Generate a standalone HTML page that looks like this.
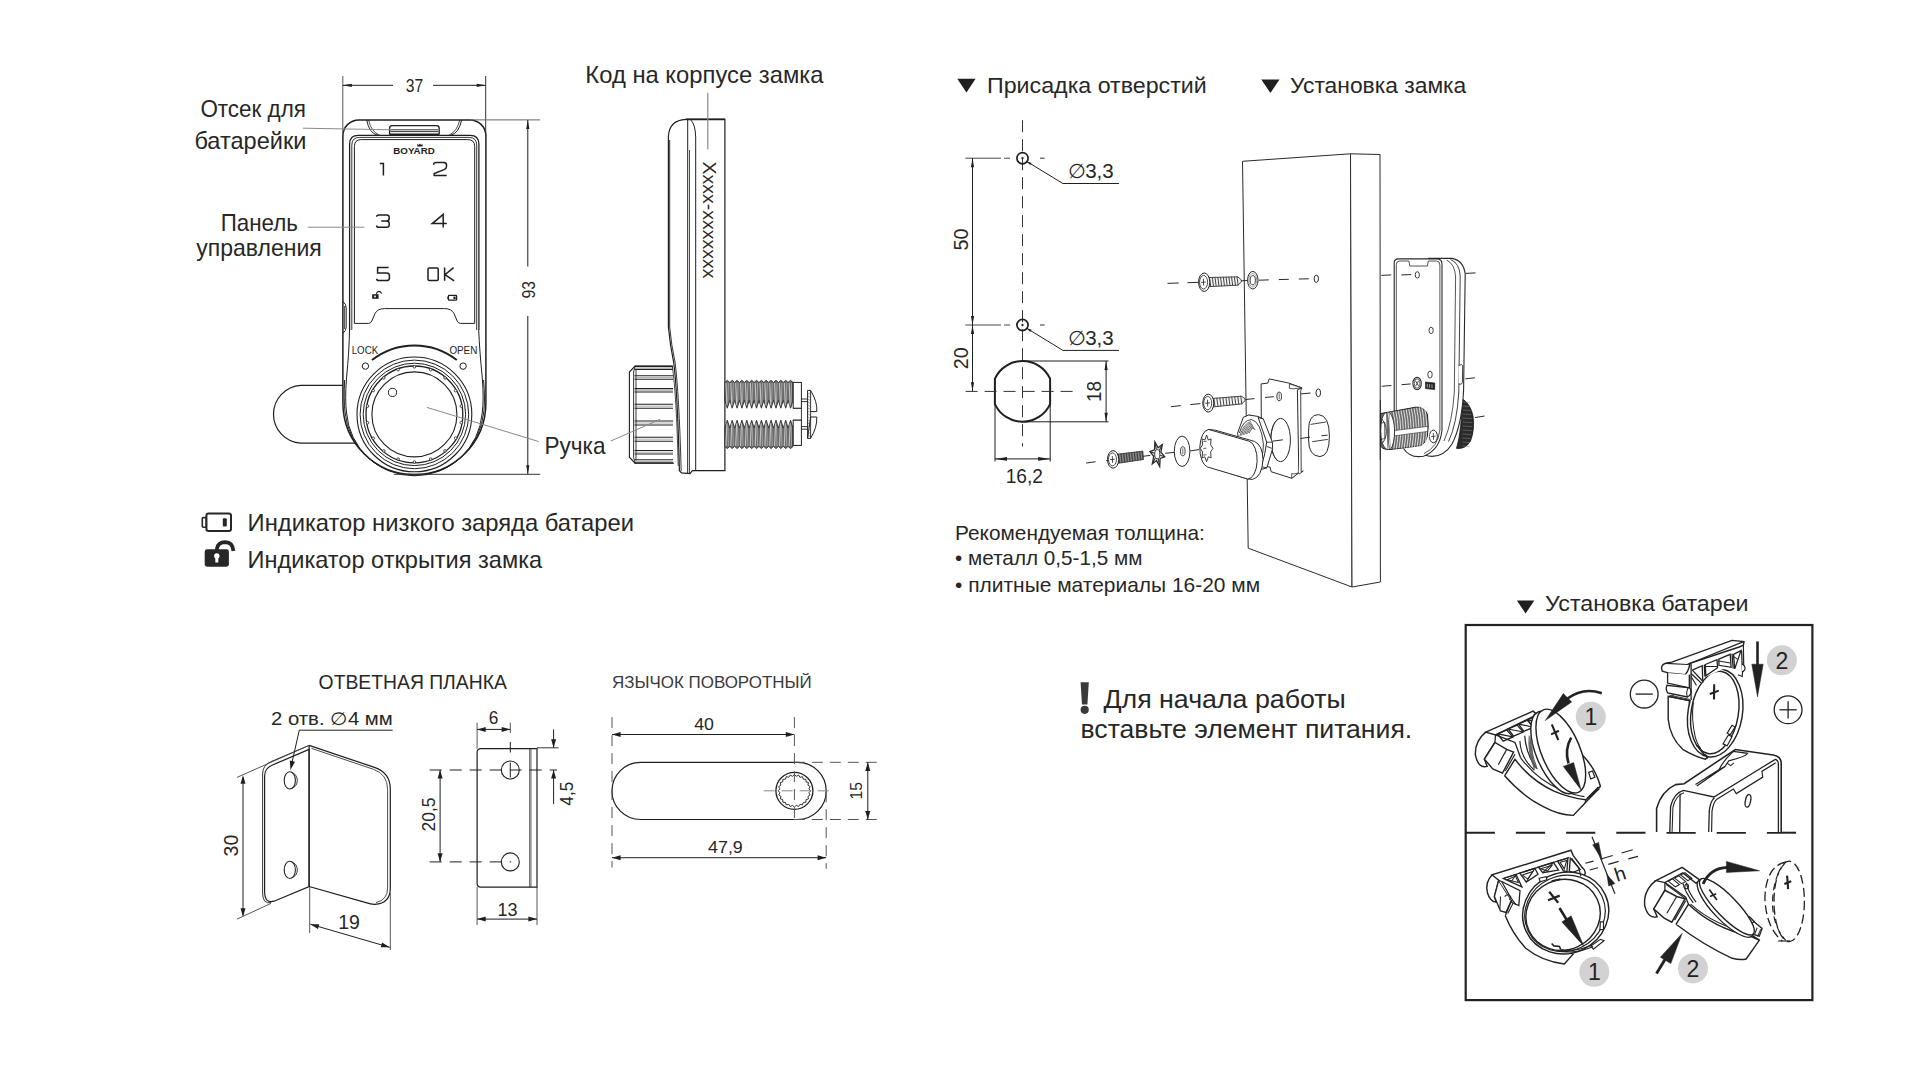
<!DOCTYPE html>
<html><head><meta charset="utf-8"><title>Lock manual</title>
<style>html,body{margin:0;padding:0;background:#fff;}svg{display:block;font-family:"Liberation Sans",sans-serif;}</style></head>
<body>
<svg width="1922" height="1080" viewBox="0 0 1922 1080">
<rect width="1922" height="1080" fill="#fff"/>
<g id="front">
<path d="M343,385.3 H300.8 A29,29 0 0 0 300.8,443.2 H357" stroke="#1f1f1f" stroke-width="1.2" fill="none" />
<path d="M342.9,136 A16,16 0 0 1 358.9,119.9 H469.9 A16,16 0 0 1 485.9,136 V403 A71.5,71.5 0 0 1 342.9,403 Z" stroke="#1f1f1f" stroke-width="1.5" fill="#fff" />
<path d="M344.6,380 Q343.6,400 345,412 A69.7,69.7 0 0 0 483.8,412 Q485.2,400 483.6,380" stroke="#1f1f1f" stroke-width="1" fill="none" />
<path d="M349.5,330 Q349.3,350 346.5,378 Q344.8,400 346.6,413 A68,68 0 0 0 482.2,413 Q484,400 482.3,378 Q479.5,350 478.7,330" stroke="#1f1f1f" stroke-width="1" fill="none" />
<path d="M342.9,301.5 Q346.2,304 346.2,308 V327 Q346.2,331 342.9,333.3" stroke="#1f1f1f" stroke-width="1" fill="none" />
<path d="M344.6,306 V329" stroke="#1f1f1f" stroke-width="0.8" fill="none" />
<path d="M366.7,120 Q369,133 377.5,135.2" stroke="#1f1f1f" stroke-width="1" fill="none" />
<path d="M368.6,120 Q371,131.5 379.5,135.2" stroke="#1f1f1f" stroke-width="0.8" fill="none" />
<path d="M461.6,120 Q459,133 451,135.2" stroke="#1f1f1f" stroke-width="1" fill="none" />
<path d="M459.7,120 Q457.2,131.5 449,135.2" stroke="#1f1f1f" stroke-width="0.8" fill="none" />
<path d="M389.6,134.4 V128.2 Q389.6,125.6 392.2,125.6 H436.6 Q439.2,125.6 439.2,128.2 V134.4" stroke="#1f1f1f" stroke-width="1.3" fill="none" />
<line x1="390.5" y1="129.8" x2="438.3" y2="129.8" stroke="#1f1f1f" stroke-width="0.9"/>
<line x1="390.5" y1="131.6" x2="438.3" y2="131.6" stroke="#1f1f1f" stroke-width="0.9"/>
<line x1="389.6" y1="134.2" x2="439.2" y2="134.2" stroke="#1f1f1f" stroke-width="1.6"/>
<path d="M349.6,330 V144 Q349.6,135.3 358.4,135.3 H470.1 Q478.9,135.3 478.9,144 V330" stroke="#1f1f1f" stroke-width="1.3" fill="none" />
<path d="M351.8,330 V145.2 Q351.8,137.4 359.6,137.4 H468.9 Q476.7,137.4 476.7,145.2 V330" stroke="#1f1f1f" stroke-width="0.9" fill="none" />
<path d="M354.4,323.4 V146.5 Q354.4,139.6 361.3,139.6 H467.7 Q474.7,139.6 474.7,146.5 V323.4 H460.5 Q458.3,323.4 457.2,321 L454,313.5 Q451.5,308.6 444.5,308.6 H384.5 Q377.5,308.6 375,313.5 L371.8,321 Q370.7,323.4 368.5,323.4 Z" stroke="#1f1f1f" stroke-width="1" fill="none" />
<text x="393.3" y="153.9" font-size="9.6" text-anchor="start" fill="#1f1f1f" textLength="41.5" lengthAdjust="spacingAndGlyphs" font-weight="bold">BOYARD</text>
<path d="M417.3,146.4 V143.8 L418.6,145 L419.9,143.5 L421.2,145 L422.5,143.8 V146.4 Z" fill="#1f1f1f"/>
<path d="M379.8,163.6 H383.4 V175.6" stroke="#1f1f1f" stroke-width="1.5" fill="none" />
<path d="M433.6,164.8 Q433.6,162.6 436.2,162.6 H443.8 Q446.5,162.6 446.5,165 V166.4 Q446.5,168.6 444,169.6 L434.2,173.6 V175.4 H446.7" stroke="#1f1f1f" stroke-width="1.5" fill="none" />
<path d="M376.6,216.8 Q376.6,214.9 379,214.9 H386.6 Q389.2,214.9 389.2,217.2 V218.6 Q389.2,221 386.6,221 H381.2 M386.6,221 Q389.2,221 389.2,223.6 V225 Q389.2,227.3 386.6,227.3 H379 Q376.6,227.3 376.6,225.4" stroke="#1f1f1f" stroke-width="1.5" fill="none" />
<path d="M443.2,227.6 V214.4 L432.2,223.6 H446.8" stroke="#1f1f1f" stroke-width="1.5" fill="none" />
<path d="M388.6,267.6 H377.6 V273 H386.6 Q389.4,273 389.4,275.6 V278 Q389.4,280.6 386.6,280.6 H379 Q376.6,280.6 376.6,278.8" stroke="#1f1f1f" stroke-width="1.5" fill="none" />
<rect x="428" y="267.9" width="10.2" height="12.6" rx="1.2" fill="none" stroke="#1f1f1f" stroke-width="1.5"/>
<path d="M444.6,267.4 V280.8 M453.6,267.6 L445,274.6 L454.2,280.8" stroke="#1f1f1f" stroke-width="1.5" fill="none" />
<rect x="372.2" y="294.2" width="6.4" height="4.6" fill="#1f1f1f"/><rect x="374.2" y="295.6" width="1.6" height="1.8" fill="#fff"/>
<path d="M376.6,294.2 V293.2 Q376.8,291.6 379,291.4 Q381.2,291.6 381.4,293.8" stroke="#1f1f1f" stroke-width="1.1" fill="none" />
<rect x="448.4" y="295.4" width="8.2" height="4.8" rx="0.8" fill="none" stroke="#1f1f1f" stroke-width="1.3"/><rect x="447.4" y="296.6" width="1.2" height="2.4" fill="#1f1f1f"/><rect x="453.4" y="296.6" width="2.2" height="2.4" fill="#1f1f1f"/>
<text x="351.7" y="353.6" font-size="10.8" text-anchor="start" fill="#1f1f1f" textLength="26.5" lengthAdjust="spacingAndGlyphs">LOCK</text>
<text x="449.4" y="353.6" font-size="10.8" text-anchor="start" fill="#1f1f1f" textLength="27.9" lengthAdjust="spacingAndGlyphs">OPEN</text>
<path d="M372.0,360.1 A68.6,68.6 0 0 1 456.8,360.1" stroke="#1f1f1f" stroke-width="1.9" fill="none" />
<circle cx="365.4" cy="366.1" r="3.2" stroke="#1f1f1f" stroke-width="1" fill="none"/>
<circle cx="463.1" cy="366.1" r="3.2" stroke="#1f1f1f" stroke-width="1" fill="none"/>
<circle cx="414.4" cy="414.4" r="57.4" stroke="#1f1f1f" stroke-width="1.1" fill="none"/>
<circle cx="414.4" cy="414.4" r="54.3" stroke="#1f1f1f" stroke-width="1" fill="none"/>
<circle cx="414.4" cy="414.4" r="51.2" stroke="#1f1f1f" stroke-width="1" fill="none"/>
<circle cx="414.4" cy="414.4" r="48.4" stroke="#1f1f1f" stroke-width="1.3" fill="none"/>
<circle cx="414.4" cy="414.4" r="42.5" stroke="#1f1f1f" stroke-width="1.1" fill="none"/>
<circle cx="414.4" cy="366.8" r="1.3" stroke="#1f1f1f" stroke-width="0.8" fill="#fff"/>
<circle cx="430.7" cy="369.7" r="1.3" stroke="#1f1f1f" stroke-width="0.8" fill="#fff"/>
<circle cx="445.0" cy="377.9" r="1.3" stroke="#1f1f1f" stroke-width="0.8" fill="#fff"/>
<circle cx="455.6" cy="390.6" r="1.3" stroke="#1f1f1f" stroke-width="0.8" fill="#fff"/>
<circle cx="461.3" cy="406.1" r="1.3" stroke="#1f1f1f" stroke-width="0.8" fill="#fff"/>
<circle cx="461.3" cy="422.7" r="1.3" stroke="#1f1f1f" stroke-width="0.8" fill="#fff"/>
<circle cx="455.6" cy="438.2" r="1.3" stroke="#1f1f1f" stroke-width="0.8" fill="#fff"/>
<circle cx="445.0" cy="450.9" r="1.3" stroke="#1f1f1f" stroke-width="0.8" fill="#fff"/>
<circle cx="430.7" cy="459.1" r="1.3" stroke="#1f1f1f" stroke-width="0.8" fill="#fff"/>
<circle cx="414.4" cy="462.0" r="1.3" stroke="#1f1f1f" stroke-width="0.8" fill="#fff"/>
<circle cx="398.1" cy="459.1" r="1.3" stroke="#1f1f1f" stroke-width="0.8" fill="#fff"/>
<circle cx="383.8" cy="450.9" r="1.3" stroke="#1f1f1f" stroke-width="0.8" fill="#fff"/>
<circle cx="373.2" cy="438.2" r="1.3" stroke="#1f1f1f" stroke-width="0.8" fill="#fff"/>
<circle cx="367.5" cy="422.7" r="1.3" stroke="#1f1f1f" stroke-width="0.8" fill="#fff"/>
<circle cx="367.5" cy="406.1" r="1.3" stroke="#1f1f1f" stroke-width="0.8" fill="#fff"/>
<circle cx="373.2" cy="390.6" r="1.3" stroke="#1f1f1f" stroke-width="0.8" fill="#fff"/>
<circle cx="383.8" cy="377.9" r="1.3" stroke="#1f1f1f" stroke-width="0.8" fill="#fff"/>
<circle cx="398.1" cy="369.7" r="1.3" stroke="#1f1f1f" stroke-width="0.8" fill="#fff"/>
<circle cx="392.5" cy="392.4" r="4.1" stroke="#1f1f1f" stroke-width="1" fill="none"/>
</g>
<line x1="342.8" y1="76.0" x2="342.8" y2="136.0" stroke="#555" stroke-width="1"/>
<line x1="485.7" y1="76.0" x2="485.7" y2="136.0" stroke="#333" stroke-width="1"/>
<line x1="342.8" y1="85.3" x2="393.0" y2="85.3" stroke="#1f1f1f" stroke-width="1"/>
<line x1="433.0" y1="85.3" x2="485.7" y2="85.3" stroke="#1f1f1f" stroke-width="1"/>
<polygon points="342.8,85.3 351.8,83.7 351.8,86.9" fill="#1f1f1f"/>
<polygon points="485.7,85.3 476.7,86.9 476.7,83.7" fill="#1f1f1f"/>
<text x="414.5" y="92.2" font-size="17.5" text-anchor="middle" fill="#272727" textLength="17.5" lengthAdjust="spacingAndGlyphs">37</text>
<line x1="470.0" y1="119.9" x2="540.0" y2="119.9" stroke="#666" stroke-width="1"/>
<line x1="393.8" y1="474.3" x2="540.2" y2="474.3" stroke="#333" stroke-width="1"/>
<line x1="527.8" y1="119.9" x2="527.8" y2="266.5" stroke="#1f1f1f" stroke-width="1"/>
<line x1="527.8" y1="316.0" x2="527.8" y2="474.3" stroke="#1f1f1f" stroke-width="1"/>
<polygon points="527.8,119.9 529.4,128.9 526.2,128.9" fill="#1f1f1f"/>
<polygon points="527.8,474.3 526.2,465.3 529.4,465.3" fill="#1f1f1f"/>
<text x="534.6" y="289.8" font-size="17.5" text-anchor="middle" fill="#272727" textLength="17.5" lengthAdjust="spacingAndGlyphs" transform="rotate(-90 534.6 289.8)">93</text>
<text x="200.4" y="117.0" font-size="23.4" text-anchor="start" fill="#272727" textLength="105.5" lengthAdjust="spacingAndGlyphs">Отсек для</text>
<text x="194.4" y="148.5" font-size="23.4" text-anchor="start" fill="#272727" textLength="112.0" lengthAdjust="spacingAndGlyphs">батарейки</text>
<line x1="303.0" y1="128.2" x2="392.0" y2="129.8" stroke="#8a8a8a" stroke-width="1"/>
<text x="220.7" y="230.9" font-size="23.4" text-anchor="start" fill="#272727" textLength="77.3" lengthAdjust="spacingAndGlyphs">Панель</text>
<text x="196.3" y="255.9" font-size="23.4" text-anchor="start" fill="#272727" textLength="125.4" lengthAdjust="spacingAndGlyphs">управления</text>
<line x1="307.8" y1="227.2" x2="364.4" y2="227.2" stroke="#8a8a8a" stroke-width="1"/>
<text x="544.5" y="453.6" font-size="23.4" text-anchor="start" fill="#272727" textLength="61.0" lengthAdjust="spacingAndGlyphs">Ручка</text>
<line x1="426.9" y1="407.4" x2="538.6" y2="441.5" stroke="#8a8a8a" stroke-width="1"/>
<g id="side">
<text x="585.3" y="83.4" font-size="23.4" text-anchor="start" fill="#272727" textLength="238.2" lengthAdjust="spacingAndGlyphs">Код на корпусе замка</text>
<path d="M672.5,366 H635 L629.4,372 V457.2 L635,463.2 H674" stroke="#1f1f1f" stroke-width="1.1" fill="#fff" />
<line x1="635.0" y1="366.0" x2="633.6" y2="372.0" stroke="#1f1f1f" stroke-width="0.9"/>
<line x1="633.6" y1="372.0" x2="633.6" y2="457.2" stroke="#1f1f1f" stroke-width="0.9"/>
<line x1="633.6" y1="457.2" x2="635.0" y2="463.2" stroke="#1f1f1f" stroke-width="0.9"/>
<line x1="636.0" y1="369.0" x2="636.0" y2="460.5" stroke="#1f1f1f" stroke-width="0.9"/>
<line x1="634.5" y1="366.4" x2="673.0" y2="366.4" stroke="#1f1f1f" stroke-width="1.1"/>
<line x1="634.5" y1="369.4" x2="673.0" y2="369.4" stroke="#1f1f1f" stroke-width="1.1"/>
<line x1="634.5" y1="367.9" x2="673.0" y2="367.9" stroke="#777" stroke-width="0.6"/>
<line x1="634.5" y1="375.8" x2="673.0" y2="375.8" stroke="#1f1f1f" stroke-width="1.1"/>
<line x1="634.5" y1="379.3" x2="673.0" y2="379.3" stroke="#1f1f1f" stroke-width="1.1"/>
<line x1="634.5" y1="377.6" x2="673.0" y2="377.6" stroke="#777" stroke-width="0.6"/>
<line x1="634.5" y1="388.6" x2="673.0" y2="388.6" stroke="#1f1f1f" stroke-width="1.1"/>
<line x1="634.5" y1="392.0" x2="673.0" y2="392.0" stroke="#1f1f1f" stroke-width="1.1"/>
<line x1="634.5" y1="390.3" x2="673.0" y2="390.3" stroke="#777" stroke-width="0.6"/>
<line x1="634.5" y1="404.2" x2="673.0" y2="404.2" stroke="#1f1f1f" stroke-width="1.1"/>
<line x1="634.5" y1="408.3" x2="673.0" y2="408.3" stroke="#1f1f1f" stroke-width="1.1"/>
<line x1="634.5" y1="406.2" x2="673.0" y2="406.2" stroke="#777" stroke-width="0.6"/>
<line x1="634.5" y1="421.0" x2="673.0" y2="421.0" stroke="#1f1f1f" stroke-width="1.1"/>
<line x1="634.5" y1="425.0" x2="673.0" y2="425.0" stroke="#1f1f1f" stroke-width="1.1"/>
<line x1="634.5" y1="423.0" x2="673.0" y2="423.0" stroke="#777" stroke-width="0.6"/>
<line x1="634.5" y1="437.2" x2="673.0" y2="437.2" stroke="#1f1f1f" stroke-width="1.1"/>
<line x1="634.5" y1="441.2" x2="673.0" y2="441.2" stroke="#1f1f1f" stroke-width="1.1"/>
<line x1="634.5" y1="439.2" x2="673.0" y2="439.2" stroke="#777" stroke-width="0.6"/>
<line x1="634.5" y1="450.5" x2="673.0" y2="450.5" stroke="#1f1f1f" stroke-width="1.1"/>
<line x1="634.5" y1="454.0" x2="673.0" y2="454.0" stroke="#1f1f1f" stroke-width="1.1"/>
<line x1="634.5" y1="452.2" x2="673.0" y2="452.2" stroke="#777" stroke-width="0.6"/>
<line x1="634.5" y1="459.8" x2="673.0" y2="459.8" stroke="#1f1f1f" stroke-width="1.1"/>
<line x1="634.5" y1="462.9" x2="673.0" y2="462.9" stroke="#1f1f1f" stroke-width="1.1"/>
<line x1="634.5" y1="461.4" x2="673.0" y2="461.4" stroke="#777" stroke-width="0.6"/>
<path d="M724.9,119.4 H686 Q669.2,120.2 668.4,136.5 V327 Q670,345 673.6,362 Q677.5,390 679.4,470.8 L681.5,472.8 L690,473.6 L692.4,470.6 H724.9 Z" stroke="#1f1f1f" stroke-width="1.2" fill="#fff" />
<path d="M669.7,140 V327 Q671.3,345 675,362 Q679,392 681.2,471" stroke="#1f1f1f" stroke-width="0.9" fill="none" />
<path d="M672.3,366 Q676.5,395 678.2,466" stroke="#1f1f1f" stroke-width="0.8" fill="none" />
<line x1="687.7" y1="119.6" x2="687.7" y2="473.0" stroke="#1f1f1f" stroke-width="1"/>
<line x1="689.5" y1="150.0" x2="689.5" y2="473.4" stroke="#1f1f1f" stroke-width="0.8"/>
<line x1="686.0" y1="119.4" x2="724.9" y2="119.4" stroke="#1f1f1f" stroke-width="1.8"/>
<path d="M690.5,119.6 Q695.3,124 695.7,137 V470.6" stroke="#1f1f1f" stroke-width="1" fill="none" />
<text x="703.3" y="161.5" font-size="18" text-anchor="start" fill="#272727" textLength="117.0" lengthAdjust="spacingAndGlyphs" transform="rotate(90 703.3 161.5)">Xxxx-xxxxxxx</text>
<path d="M724.9,382.5 L727.3,380.3 L729.8,382.5 L732.2,380.3 L734.6,382.5 L737.1,380.3 L739.5,382.5 L741.9,380.3 L744.4,382.5 L746.8,380.3 L749.2,382.5 L751.7,380.3 L754.1,382.5 L756.5,380.3 L759.0,382.5 L761.4,380.3 L763.8,382.5 L766.2,380.3 L768.7,382.5 L771.1,380.3 L773.5,382.5 L776.0,380.3 L778.4,382.5 L780.8,380.3 L783.3,382.5 L785.7,380.3 L788.1,382.5 L790.6,380.3 L793.0,382.5 L793.0,400.4 L790.6,408.2 L788.1,400.4 L785.7,408.2 L783.3,400.4 L780.8,408.2 L778.4,400.4 L776.0,408.2 L773.5,400.4 L771.1,408.2 L768.7,400.4 L766.2,408.2 L763.8,400.4 L761.4,408.2 L759.0,400.4 L756.5,408.2 L754.1,400.4 L751.7,408.2 L749.2,400.4 L746.8,408.2 L744.4,400.4 L741.9,408.2 L739.5,400.4 L737.1,408.2 L734.6,400.4 L732.2,408.2 L729.8,400.4 L727.3,408.2 L724.9,400.4 Z" stroke="#2e2e2e" stroke-width="0.9" fill="#6c6c6c" />
<line x1="726.0" y1="382.9" x2="726.9" y2="405.2" stroke="#c4c4c4" stroke-width="1.1"/>
<line x1="728.4" y1="382.9" x2="727.8" y2="402.2" stroke="#a8a8a8" stroke-width="0.9"/>
<line x1="730.8" y1="382.9" x2="731.8" y2="405.2" stroke="#c4c4c4" stroke-width="1.1"/>
<line x1="733.3" y1="382.9" x2="732.7" y2="402.2" stroke="#a8a8a8" stroke-width="0.9"/>
<line x1="735.7" y1="382.9" x2="736.7" y2="405.2" stroke="#c4c4c4" stroke-width="1.1"/>
<line x1="738.1" y1="382.9" x2="737.5" y2="402.2" stroke="#a8a8a8" stroke-width="0.9"/>
<line x1="740.6" y1="382.9" x2="741.5" y2="405.2" stroke="#c4c4c4" stroke-width="1.1"/>
<line x1="743.0" y1="382.9" x2="742.4" y2="402.2" stroke="#a8a8a8" stroke-width="0.9"/>
<line x1="745.4" y1="382.9" x2="746.4" y2="405.2" stroke="#c4c4c4" stroke-width="1.1"/>
<line x1="747.9" y1="382.9" x2="747.3" y2="402.2" stroke="#a8a8a8" stroke-width="0.9"/>
<line x1="750.3" y1="382.9" x2="751.3" y2="405.2" stroke="#c4c4c4" stroke-width="1.1"/>
<line x1="752.7" y1="382.9" x2="752.1" y2="402.2" stroke="#a8a8a8" stroke-width="0.9"/>
<line x1="755.2" y1="382.9" x2="756.1" y2="405.2" stroke="#c4c4c4" stroke-width="1.1"/>
<line x1="757.6" y1="382.9" x2="757.0" y2="402.2" stroke="#a8a8a8" stroke-width="0.9"/>
<line x1="760.0" y1="382.9" x2="761.0" y2="405.2" stroke="#c4c4c4" stroke-width="1.1"/>
<line x1="762.5" y1="382.9" x2="761.9" y2="402.2" stroke="#a8a8a8" stroke-width="0.9"/>
<line x1="764.9" y1="382.9" x2="765.9" y2="405.2" stroke="#c4c4c4" stroke-width="1.1"/>
<line x1="767.3" y1="382.9" x2="766.7" y2="402.2" stroke="#a8a8a8" stroke-width="0.9"/>
<line x1="769.7" y1="382.9" x2="770.7" y2="405.2" stroke="#c4c4c4" stroke-width="1.1"/>
<line x1="772.2" y1="382.9" x2="771.6" y2="402.2" stroke="#a8a8a8" stroke-width="0.9"/>
<line x1="774.6" y1="382.9" x2="775.6" y2="405.2" stroke="#c4c4c4" stroke-width="1.1"/>
<line x1="777.0" y1="382.9" x2="776.5" y2="402.2" stroke="#a8a8a8" stroke-width="0.9"/>
<line x1="779.5" y1="382.9" x2="780.5" y2="405.2" stroke="#c4c4c4" stroke-width="1.1"/>
<line x1="781.9" y1="382.9" x2="781.3" y2="402.2" stroke="#a8a8a8" stroke-width="0.9"/>
<line x1="784.3" y1="382.9" x2="785.3" y2="405.2" stroke="#c4c4c4" stroke-width="1.1"/>
<line x1="786.8" y1="382.9" x2="786.2" y2="402.2" stroke="#a8a8a8" stroke-width="0.9"/>
<line x1="789.2" y1="382.9" x2="790.2" y2="405.2" stroke="#c4c4c4" stroke-width="1.1"/>
<line x1="791.6" y1="382.9" x2="791.1" y2="402.2" stroke="#a8a8a8" stroke-width="0.9"/>
<path d="M724.9,446.4 L727.3,448.6 L729.8,446.4 L732.2,448.6 L734.6,446.4 L737.1,448.6 L739.5,446.4 L741.9,448.6 L744.4,446.4 L746.8,448.6 L749.2,446.4 L751.7,448.6 L754.1,446.4 L756.5,448.6 L759.0,446.4 L761.4,448.6 L763.8,446.4 L766.2,448.6 L768.7,446.4 L771.1,448.6 L773.5,446.4 L776.0,448.6 L778.4,446.4 L780.8,448.6 L783.3,446.4 L785.7,448.6 L788.1,446.4 L790.6,448.6 L793.0,446.4 L793.0,428.0 L790.6,420.2 L788.1,428.0 L785.7,420.2 L783.3,428.0 L780.8,420.2 L778.4,428.0 L776.0,420.2 L773.5,428.0 L771.1,420.2 L768.7,428.0 L766.2,420.2 L763.8,428.0 L761.4,420.2 L759.0,428.0 L756.5,420.2 L754.1,428.0 L751.7,420.2 L749.2,428.0 L746.8,420.2 L744.4,428.0 L741.9,420.2 L739.5,428.0 L737.1,420.2 L734.6,428.0 L732.2,420.2 L729.8,428.0 L727.3,420.2 L724.9,428.0 Z" stroke="#2e2e2e" stroke-width="0.9" fill="#6c6c6c" />
<line x1="726.0" y1="446.0" x2="726.9" y2="423.2" stroke="#c4c4c4" stroke-width="1.1"/>
<line x1="728.4" y1="446.0" x2="727.8" y2="426.2" stroke="#a8a8a8" stroke-width="0.9"/>
<line x1="730.8" y1="446.0" x2="731.8" y2="423.2" stroke="#c4c4c4" stroke-width="1.1"/>
<line x1="733.3" y1="446.0" x2="732.7" y2="426.2" stroke="#a8a8a8" stroke-width="0.9"/>
<line x1="735.7" y1="446.0" x2="736.7" y2="423.2" stroke="#c4c4c4" stroke-width="1.1"/>
<line x1="738.1" y1="446.0" x2="737.5" y2="426.2" stroke="#a8a8a8" stroke-width="0.9"/>
<line x1="740.6" y1="446.0" x2="741.5" y2="423.2" stroke="#c4c4c4" stroke-width="1.1"/>
<line x1="743.0" y1="446.0" x2="742.4" y2="426.2" stroke="#a8a8a8" stroke-width="0.9"/>
<line x1="745.4" y1="446.0" x2="746.4" y2="423.2" stroke="#c4c4c4" stroke-width="1.1"/>
<line x1="747.9" y1="446.0" x2="747.3" y2="426.2" stroke="#a8a8a8" stroke-width="0.9"/>
<line x1="750.3" y1="446.0" x2="751.3" y2="423.2" stroke="#c4c4c4" stroke-width="1.1"/>
<line x1="752.7" y1="446.0" x2="752.1" y2="426.2" stroke="#a8a8a8" stroke-width="0.9"/>
<line x1="755.2" y1="446.0" x2="756.1" y2="423.2" stroke="#c4c4c4" stroke-width="1.1"/>
<line x1="757.6" y1="446.0" x2="757.0" y2="426.2" stroke="#a8a8a8" stroke-width="0.9"/>
<line x1="760.0" y1="446.0" x2="761.0" y2="423.2" stroke="#c4c4c4" stroke-width="1.1"/>
<line x1="762.5" y1="446.0" x2="761.9" y2="426.2" stroke="#a8a8a8" stroke-width="0.9"/>
<line x1="764.9" y1="446.0" x2="765.9" y2="423.2" stroke="#c4c4c4" stroke-width="1.1"/>
<line x1="767.3" y1="446.0" x2="766.7" y2="426.2" stroke="#a8a8a8" stroke-width="0.9"/>
<line x1="769.7" y1="446.0" x2="770.7" y2="423.2" stroke="#c4c4c4" stroke-width="1.1"/>
<line x1="772.2" y1="446.0" x2="771.6" y2="426.2" stroke="#a8a8a8" stroke-width="0.9"/>
<line x1="774.6" y1="446.0" x2="775.6" y2="423.2" stroke="#c4c4c4" stroke-width="1.1"/>
<line x1="777.0" y1="446.0" x2="776.5" y2="426.2" stroke="#a8a8a8" stroke-width="0.9"/>
<line x1="779.5" y1="446.0" x2="780.5" y2="423.2" stroke="#c4c4c4" stroke-width="1.1"/>
<line x1="781.9" y1="446.0" x2="781.3" y2="426.2" stroke="#a8a8a8" stroke-width="0.9"/>
<line x1="784.3" y1="446.0" x2="785.3" y2="423.2" stroke="#c4c4c4" stroke-width="1.1"/>
<line x1="786.8" y1="446.0" x2="786.2" y2="426.2" stroke="#a8a8a8" stroke-width="0.9"/>
<line x1="789.2" y1="446.0" x2="790.2" y2="423.2" stroke="#c4c4c4" stroke-width="1.1"/>
<line x1="791.6" y1="446.0" x2="791.1" y2="426.2" stroke="#a8a8a8" stroke-width="0.9"/>
<line x1="793.0" y1="408.2" x2="801.4" y2="408.2" stroke="#1f1f1f" stroke-width="0.9"/>
<line x1="793.0" y1="420.2" x2="801.4" y2="420.2" stroke="#1f1f1f" stroke-width="0.9"/>
<line x1="801.4" y1="408.2" x2="801.4" y2="420.2" stroke="#1f1f1f" stroke-width="0.9"/>
<rect x="793.2" y="382.4" width="8.2" height="25.8" fill="#fff" stroke="#1f1f1f" stroke-width="1"/>
<rect x="793.2" y="420.2" width="8.2" height="25.2" fill="#fff" stroke="#1f1f1f" stroke-width="1"/>
<path d="M801.2,399 H807.6 M801.2,401.6 H807.6 M801.2,426.6 H807.6 M801.2,429.2 H807.6" stroke="#1f1f1f" stroke-width="0.9" fill="none" />
<path d="M807.6,390.4 H810.6 Q817.6,402 816.8,411.6 H810.6 M810.6,417 H816.8 Q817.4,427 810.6,438.4 H807.6 Z" stroke="#1f1f1f" stroke-width="1" fill="#fff" />
<line x1="810.6" y1="390.4" x2="810.6" y2="438.4" stroke="#1f1f1f" stroke-width="0.9"/>
<path d="M807.6,390.4 V438.4" stroke="#1f1f1f" stroke-width="1" fill="none" />
<line x1="808.0" y1="393.0" x2="810.4" y2="394.5" stroke="#555" stroke-width="0.6"/>
<line x1="808.0" y1="396.0" x2="810.4" y2="397.5" stroke="#555" stroke-width="0.6"/>
<line x1="808.0" y1="399.0" x2="810.4" y2="400.5" stroke="#555" stroke-width="0.6"/>
<line x1="808.0" y1="402.0" x2="810.4" y2="403.5" stroke="#555" stroke-width="0.6"/>
<line x1="808.0" y1="405.0" x2="810.4" y2="406.5" stroke="#555" stroke-width="0.6"/>
<line x1="808.0" y1="408.0" x2="810.4" y2="409.5" stroke="#555" stroke-width="0.6"/>
<line x1="808.0" y1="411.0" x2="810.4" y2="412.5" stroke="#555" stroke-width="0.6"/>
<line x1="808.0" y1="414.0" x2="810.4" y2="415.5" stroke="#555" stroke-width="0.6"/>
<line x1="808.0" y1="417.0" x2="810.4" y2="418.5" stroke="#555" stroke-width="0.6"/>
<line x1="808.0" y1="420.0" x2="810.4" y2="421.5" stroke="#555" stroke-width="0.6"/>
<line x1="808.0" y1="423.0" x2="810.4" y2="424.5" stroke="#555" stroke-width="0.6"/>
<line x1="808.0" y1="426.0" x2="810.4" y2="427.5" stroke="#555" stroke-width="0.6"/>
<line x1="808.0" y1="429.0" x2="810.4" y2="430.5" stroke="#555" stroke-width="0.6"/>
<line x1="808.0" y1="432.0" x2="810.4" y2="433.5" stroke="#555" stroke-width="0.6"/>
<line x1="808.0" y1="435.0" x2="810.4" y2="436.5" stroke="#555" stroke-width="0.6"/>
<line x1="707.8" y1="92.8" x2="707.8" y2="149.2" stroke="#8a8a8a" stroke-width="1.2"/>
<line x1="610.8" y1="441.0" x2="660.2" y2="419.3" stroke="#8a8a8a" stroke-width="1"/>
</g>
<rect x="206.4" y="513.6" width="24.6" height="17.4" rx="2.2" fill="none" stroke="#272727" stroke-width="2"/>
<rect x="202.3" y="517.6" width="4" height="9.6" rx="1" fill="none" stroke="#272727" stroke-width="1.6"/>
<rect x="222.8" y="518.2" width="4" height="8.4" rx="1" fill="#272727"/>
<text x="247.6" y="531.1" font-size="23.4" text-anchor="start" fill="#272727" textLength="386.4" lengthAdjust="spacingAndGlyphs">Индикатор низкого заряда батареи</text>
<text x="247.6" y="567.5" font-size="23.4" text-anchor="start" fill="#272727" textLength="294.5" lengthAdjust="spacingAndGlyphs">Индикатор открытия замка</text>
<rect x="204.7" y="549.3" width="24.2" height="17.4" rx="2.4" fill="#272727"/>
<path d="M217,550 V548.6 Q217.8,542.3 225.3,542.1 Q232.8,542.3 233.4,551" stroke="#272727" stroke-width="3.8" fill="none" />
<circle cx="216.8" cy="556" r="2.7" fill="#fff"/><rect x="215.3" y="556.5" width="3" height="6" fill="#fff"/>
<g id="bracket">
<text x="318.6" y="688.5" font-size="19.8" text-anchor="start" fill="#272727" textLength="188.2" lengthAdjust="spacingAndGlyphs">ОТВЕТНАЯ ПЛАНКА</text>
<text x="271.1" y="724.7" font-size="18.3" text-anchor="start" fill="#272727" textLength="121.6" lengthAdjust="spacingAndGlyphs">2 отв. ∅4 мм</text>
<line x1="299.3" y1="730.2" x2="392.7" y2="730.2" stroke="#1f1f1f" stroke-width="1"/>
<path d="M309.1,745.4 L374.5,767.4 Q390.3,772.8 390.3,789 V888 Q390.3,903.5 374.9,904.3 Q371,904.4 366,902.6 L309.1,886.5" stroke="#1f1f1f" stroke-width="1.2" fill="#fff" />
<path d="M311.5,748.4 L373.5,769.3 Q387.6,774.4 387.6,789.5 V888 Q387.6,900 376,902.5" stroke="#1f1f1f" stroke-width="0.8" fill="none" />
<path d="M309.1,749.4 L272,765.2 Q264.6,768.4 264.6,776 V891.5 Q264.6,903.8 274,901.2 L309.1,886.5 Z" stroke="#1f1f1f" stroke-width="1.2" fill="#fff" />
<path d="M309.1,745.4 L270.6,761.8 Q262.6,765.4 262.6,774 V893 Q262.6,904.5 271.2,902.6" stroke="#1f1f1f" stroke-width="0.9" fill="none" />
<line x1="309.1" y1="745.4" x2="309.1" y2="886.5" stroke="#1f1f1f" stroke-width="1.2"/>
<ellipse cx="289.8" cy="780.4" rx="5.6" ry="8.6" stroke="#1f1f1f" stroke-width="1.1" fill="none"/>
<path d="M291.2,772.1 Q297.3,774.4 297.3,780.4 Q297.3,786.4 291.2,788.6999999999999" stroke="#1f1f1f" stroke-width="0.9" fill="none" />
<ellipse cx="289.8" cy="869.9" rx="5.6" ry="8.6" stroke="#1f1f1f" stroke-width="1.1" fill="none"/>
<path d="M291.2,861.6 Q297.3,863.9 297.3,869.9 Q297.3,875.9 291.2,878.1999999999999" stroke="#1f1f1f" stroke-width="0.9" fill="none" />
<line x1="299.3" y1="730.2" x2="291.2" y2="766.0" stroke="#1f1f1f" stroke-width="1"/>
<polygon points="290.4,770.0 289.9,760.6 295.0,761.8" fill="#1f1f1f"/>
<line x1="237.0" y1="777.4" x2="309.0" y2="745.4" stroke="#444" stroke-width="0.9"/>
<line x1="237.0" y1="919.1" x2="271.0" y2="903.4" stroke="#444" stroke-width="0.9"/>
<line x1="243.0" y1="777.4" x2="243.0" y2="915.3" stroke="#1f1f1f" stroke-width="1"/>
<polygon points="243.0,775.2 245.5,783.8 240.5,783.8" fill="#1f1f1f"/>
<polygon points="243.0,916.8 240.5,908.2 245.5,908.2" fill="#1f1f1f"/>
<text x="238.2" y="845.6" font-size="19.5" text-anchor="middle" fill="#272727" textLength="21.7" lengthAdjust="spacingAndGlyphs" transform="rotate(-90 238.2 845.6)">30</text>
<line x1="309.7" y1="887.0" x2="309.7" y2="933.0" stroke="#444" stroke-width="0.9"/>
<line x1="390.3" y1="893.0" x2="390.3" y2="950.0" stroke="#444" stroke-width="0.9"/>
<line x1="310.3" y1="924.2" x2="389.7" y2="947.3" stroke="#1f1f1f" stroke-width="1"/>
<polygon points="310.3,924.2 319.3,924.2 317.9,929.0" fill="#1f1f1f"/>
<polygon points="389.7,947.3 380.7,947.3 382.1,942.5" fill="#1f1f1f"/>
<text x="338.2" y="929.0" font-size="19.5" text-anchor="start" fill="#272727" textLength="21.7" lengthAdjust="spacingAndGlyphs">19</text>
</g><g id="bracket2">
<path d="M537,748.7 H481 Q477.1,748.7 477.1,752.6 V883.2 Q477.1,887.1 481,887.1 H537 Z" stroke="#1f1f1f" stroke-width="1.2" fill="none" />
<line x1="529.9" y1="748.7" x2="529.9" y2="887.1" stroke="#1f1f1f" stroke-width="1"/>
<line x1="531.2" y1="748.7" x2="531.2" y2="887.1" stroke="#666" stroke-width="0.7"/>
<circle cx="510.3" cy="770.0" r="9.0" stroke="#1f1f1f" stroke-width="1.1" fill="none"/>
<circle cx="510.3" cy="861.9" r="9.0" stroke="#1f1f1f" stroke-width="1.1" fill="none"/>
<line x1="429.7" y1="770.0" x2="557.1" y2="770.0" stroke="#1f1f1f" stroke-width="1" stroke-dasharray="12 8"/>
<line x1="429.7" y1="861.9" x2="511.2" y2="861.9" stroke="#1f1f1f" stroke-width="1" stroke-dasharray="12 8"/>
<line x1="510.3" y1="742.0" x2="510.3" y2="752.5" stroke="#1f1f1f" stroke-width="1"/>
<line x1="510.3" y1="762.5" x2="510.3" y2="777.5" stroke="#1f1f1f" stroke-width="1"/>
<line x1="477.1" y1="722.6" x2="477.1" y2="748.7" stroke="#444" stroke-width="0.9"/>
<line x1="510.3" y1="722.6" x2="510.3" y2="733.0" stroke="#444" stroke-width="0.9"/>
<line x1="477.1" y1="729.4" x2="510.3" y2="729.4" stroke="#1f1f1f" stroke-width="1"/>
<polygon points="477.1,729.4 485.7,726.9 485.7,731.9" fill="#1f1f1f"/>
<polygon points="510.3,729.4 501.7,731.9 501.7,726.9" fill="#1f1f1f"/>
<text x="488.8" y="724.3" font-size="19" text-anchor="start" fill="#272727" textLength="9.6" lengthAdjust="spacingAndGlyphs">6</text>
<line x1="440.1" y1="770.0" x2="440.1" y2="861.9" stroke="#1f1f1f" stroke-width="1"/>
<polygon points="440.1,770.0 442.6,778.6 437.6,778.6" fill="#1f1f1f"/>
<polygon points="440.1,861.9 437.6,853.3 442.6,853.3" fill="#1f1f1f"/>
<text x="434.8" y="814.5" font-size="19" text-anchor="middle" fill="#272727" textLength="34.0" lengthAdjust="spacingAndGlyphs" transform="rotate(-90 434.8 814.5)">20,5</text>
<line x1="537.0" y1="747.8" x2="558.6" y2="747.8" stroke="#1f1f1f" stroke-width="0.9"/>
<line x1="553.6" y1="729.4" x2="553.6" y2="747.8" stroke="#1f1f1f" stroke-width="1"/>
<line x1="553.6" y1="770.0" x2="553.6" y2="804.1" stroke="#1f1f1f" stroke-width="1"/>
<polygon points="553.6,747.8 551.1,739.2 556.1,739.2" fill="#1f1f1f"/>
<polygon points="553.6,770.0 556.1,778.6 551.1,778.6" fill="#1f1f1f"/>
<text x="573.0" y="793.7" font-size="19" text-anchor="middle" fill="#272727" textLength="24.0" lengthAdjust="spacingAndGlyphs" transform="rotate(-90 573.0 793.7)">4,5</text>
<line x1="477.1" y1="887.1" x2="477.1" y2="925.0" stroke="#444" stroke-width="0.9"/>
<line x1="537.0" y1="887.1" x2="537.0" y2="925.0" stroke="#444" stroke-width="0.9"/>
<line x1="477.1" y1="919.1" x2="537.0" y2="919.1" stroke="#1f1f1f" stroke-width="1"/>
<polygon points="477.1,919.1 485.7,916.6 485.7,921.6" fill="#1f1f1f"/>
<polygon points="537.0,919.1 528.4,921.6 528.4,916.6" fill="#1f1f1f"/>
<text x="497.6" y="915.5" font-size="19" text-anchor="start" fill="#272727" textLength="20.0" lengthAdjust="spacingAndGlyphs">13</text>
</g><g id="tongue">
<text x="612.0" y="687.7" font-size="17" text-anchor="start" fill="#3a3a3a" textLength="199.8" lengthAdjust="spacingAndGlyphs">ЯЗЫЧОК ПОВОРОТНЫЙ</text>
<path d="M640.6,762.3 H797.6 A28.6,28.6 0 0 1 797.6,819.5 H640.6 A28.6,28.6 0 0 1 640.6,762.3 Z" stroke="#1f1f1f" stroke-width="1.2" fill="none" />
<circle cx="794.4" cy="790.8" r="18.5" stroke="#1f1f1f" stroke-width="1.3" fill="none"/>
<path d="M810.7,790.8 L808.9,792.7 L810.1,795.0 L807.9,796.4 L808.5,798.9 L806.0,799.7 L805.9,802.3 L803.3,802.4 L802.5,804.9 L800.0,804.3 L798.6,806.5 L796.3,805.3 L794.4,807.1 L792.5,805.3 L790.2,806.5 L788.8,804.3 L786.2,804.9 L785.5,802.4 L782.9,802.3 L782.8,799.7 L780.3,798.9 L780.9,796.4 L778.7,795.0 L779.9,792.7 L778.1,790.8 L779.9,788.9 L778.7,786.6 L780.9,785.2 L780.3,782.6 L782.8,781.9 L782.9,779.3 L785.5,779.2 L786.2,776.7 L788.8,777.3 L790.2,775.1 L792.5,776.3 L794.4,774.5 L796.3,776.3 L798.6,775.1 L800.0,777.3 L802.5,776.7 L803.3,779.2 L805.9,779.3 L806.0,781.9 L808.5,782.6 L807.9,785.2 L810.1,786.6 L808.9,788.9 Z" stroke="#1f1f1f" stroke-width="0.9" fill="none" />
<line x1="612.0" y1="717.1" x2="612.0" y2="867.6" stroke="#555" stroke-width="1" stroke-dasharray="11 7"/>
<line x1="794.4" y1="717.1" x2="794.4" y2="819.0" stroke="#555" stroke-width="1" stroke-dasharray="11 7"/>
<line x1="826.2" y1="791.2" x2="826.2" y2="868.8" stroke="#555" stroke-width="1" stroke-dasharray="11 7"/>
<line x1="793.8" y1="762.3" x2="877.1" y2="762.3" stroke="#555" stroke-width="1" stroke-dasharray="11 7"/>
<line x1="793.8" y1="819.5" x2="877.1" y2="819.5" stroke="#555" stroke-width="1" stroke-dasharray="11 7"/>
<line x1="763.7" y1="790.8" x2="833.1" y2="790.8" stroke="#888" stroke-width="1" stroke-dasharray="11 7"/>
<line x1="612.0" y1="734.5" x2="794.4" y2="734.5" stroke="#1f1f1f" stroke-width="1"/>
<polygon points="612.0,734.5 620.6,732.0 620.6,737.0" fill="#1f1f1f"/>
<polygon points="794.4,734.5 785.8,737.0 785.8,732.0" fill="#1f1f1f"/>
<text x="694.2" y="729.9" font-size="16.5" text-anchor="start" fill="#272727" textLength="19.7" lengthAdjust="spacingAndGlyphs">40</text>
<line x1="612.0" y1="857.7" x2="826.2" y2="857.7" stroke="#1f1f1f" stroke-width="1"/>
<polygon points="612.0,857.7 620.6,855.2 620.6,860.2" fill="#1f1f1f"/>
<polygon points="826.2,857.7 817.6,860.2 817.6,855.2" fill="#1f1f1f"/>
<text x="708.1" y="852.6" font-size="16.5" text-anchor="start" fill="#272727" textLength="34.7" lengthAdjust="spacingAndGlyphs">47,9</text>
<line x1="867.8" y1="762.3" x2="867.8" y2="819.5" stroke="#1f1f1f" stroke-width="1"/>
<polygon points="867.8,762.3 870.3,770.9 865.3,770.9" fill="#1f1f1f"/>
<polygon points="867.8,819.5 865.3,810.9 870.3,810.9" fill="#1f1f1f"/>
<text x="862.3" y="790.8" font-size="16.5" text-anchor="middle" fill="#272727" textLength="17.5" lengthAdjust="spacingAndGlyphs" transform="rotate(-90 862.3 790.8)">15</text>
</g>
<g id="holes">
<polygon points="957.3,78.8 975.6,78.8 966.45,92.6" fill="#1f1f1f"/>
<text x="987.0" y="93.0" font-size="22.6" text-anchor="start" fill="#272727" textLength="219.8" lengthAdjust="spacingAndGlyphs">Присадка отверстий</text>
<polygon points="1261.3,79.4 1279.5,79.4 1270.4,93" fill="#1f1f1f"/>
<text x="1290.0" y="93.3" font-size="22.6" text-anchor="start" fill="#272727" textLength="176.3" lengthAdjust="spacingAndGlyphs">Установка замка</text>
<line x1="1022.5" y1="120.2" x2="1022.5" y2="446.5" stroke="#333" stroke-width="1" stroke-dasharray="12 7"/>
<circle cx="1022.5" cy="158.2" r="5.6" stroke="#1f1f1f" stroke-width="1.7" fill="none"/>
<circle cx="1022.5" cy="158.2" r="0.9" stroke="#1f1f1f" stroke-width="0.5" fill="#1f1f1f"/>
<line x1="965.4" y1="158.2" x2="1001.0" y2="158.2" stroke="#333" stroke-width="0.9"/>
<line x1="1004.0" y1="158.2" x2="1010.0" y2="158.2" stroke="#333" stroke-width="0.9"/>
<line x1="1040.0" y1="158.2" x2="1044.6" y2="158.2" stroke="#333" stroke-width="1"/>
<path d="M1027,161.6 L1062.9,183.5 H1119" stroke="#1f1f1f" stroke-width="1" fill="none" />
<polygon points="1026.6,161.4 1031.6,162.9 1030.2,165.1" fill="#1f1f1f"/>
<text x="1067.7" y="178.1" font-size="20" text-anchor="start" fill="#272727" textLength="46.0" lengthAdjust="spacingAndGlyphs">∅3,3</text>
<circle cx="1022.5" cy="325.0" r="5.6" stroke="#1f1f1f" stroke-width="1.7" fill="none"/>
<circle cx="1022.5" cy="325.0" r="0.9" stroke="#1f1f1f" stroke-width="0.5" fill="#1f1f1f"/>
<line x1="965.4" y1="325.0" x2="1001.0" y2="325.0" stroke="#333" stroke-width="0.9"/>
<line x1="1004.0" y1="325.0" x2="1010.0" y2="325.0" stroke="#333" stroke-width="0.9"/>
<line x1="1040.0" y1="325.0" x2="1044.6" y2="325.0" stroke="#333" stroke-width="1"/>
<path d="M1027,328.4 L1062.9,350.4 H1119" stroke="#1f1f1f" stroke-width="1" fill="none" />
<polygon points="1026.6,328.2 1031.6,329.7 1030.2,331.9" fill="#1f1f1f"/>
<text x="1067.7" y="345.0" font-size="20" text-anchor="start" fill="#272727" textLength="46.0" lengthAdjust="spacingAndGlyphs">∅3,3</text>
<line x1="972.5" y1="158.2" x2="972.5" y2="325.0" stroke="#1f1f1f" stroke-width="1"/>
<polygon points="972.5,158.2 974.1,167.2 970.9,167.2" fill="#1f1f1f"/>
<polygon points="972.5,325.0 970.9,316.0 974.1,316.0" fill="#1f1f1f"/>
<text x="968.4" y="239.4" font-size="19.5" text-anchor="middle" fill="#272727" textLength="22.0" lengthAdjust="spacingAndGlyphs" transform="rotate(-90 968.4 239.4)">50</text>
<line x1="972.5" y1="325.0" x2="972.5" y2="391.3" stroke="#1f1f1f" stroke-width="1"/>
<polygon points="972.5,325.0 974.1,334.0 970.9,334.0" fill="#1f1f1f"/>
<polygon points="972.5,391.3 970.9,382.3 974.1,382.3" fill="#1f1f1f"/>
<text x="968.2" y="358.3" font-size="19.5" text-anchor="middle" fill="#272727" textLength="22.0" lengthAdjust="spacingAndGlyphs" transform="rotate(-90 968.2 358.3)">20</text>
<path d="M994.9,378.7 A30.4,30.4 0 0 1 1050.1,378.7 V404.1 A30.4,30.4 0 0 1 994.9,404.1 Z" stroke="#1f1f1f" stroke-width="2" fill="none" />
<line x1="965.6" y1="391.4" x2="1073.5" y2="391.4" stroke="#333" stroke-width="1" stroke-dasharray="12 7"/>
<line x1="1022.5" y1="361.0" x2="1108.5" y2="361.0" stroke="#1f1f1f" stroke-width="1"/>
<line x1="1022.5" y1="421.8" x2="1108.5" y2="421.8" stroke="#1f1f1f" stroke-width="1"/>
<line x1="1106.1" y1="361.0" x2="1106.1" y2="421.8" stroke="#1f1f1f" stroke-width="1"/>
<polygon points="1106.1,361.0 1107.7,370.0 1104.5,370.0" fill="#1f1f1f"/>
<polygon points="1106.1,421.8 1104.5,412.8 1107.7,412.8" fill="#1f1f1f"/>
<text x="1101.2" y="391.4" font-size="19.5" text-anchor="middle" fill="#272727" textLength="21.0" lengthAdjust="spacingAndGlyphs" transform="rotate(-90 1101.2 391.4)">18</text>
<line x1="995.0" y1="404.0" x2="995.0" y2="461.5" stroke="#1f1f1f" stroke-width="1"/>
<line x1="1050.2" y1="404.0" x2="1050.2" y2="461.5" stroke="#1f1f1f" stroke-width="1"/>
<line x1="995.0" y1="458.9" x2="1050.2" y2="458.9" stroke="#1f1f1f" stroke-width="1"/>
<polygon points="995.0,458.9 1007.0,457.1 1007.0,460.7" fill="#1f1f1f"/>
<polygon points="1050.2,458.9 1038.2,460.7 1038.2,457.1" fill="#1f1f1f"/>
<text x="1005.7" y="483.0" font-size="19.5" text-anchor="start" fill="#272727" textLength="37.2" lengthAdjust="spacingAndGlyphs">16,2</text>
<text x="955.1" y="539.5" font-size="20.2" text-anchor="start" fill="#272727" textLength="249.7" lengthAdjust="spacingAndGlyphs">Рекомендуемая толщина:</text>
<text x="955.1" y="565.0" font-size="20.2" text-anchor="start" fill="#272727" textLength="187.3" lengthAdjust="spacingAndGlyphs">• металл 0,5-1,5 мм</text>
<text x="955.1" y="591.6" font-size="20.2" text-anchor="start" fill="#272727" textLength="305.0" lengthAdjust="spacingAndGlyphs">• плитные материалы 16-20 мм</text>
<path d="M1080.6,682.2 H1088.8 L1087.4,704.4 H1082 Z" fill="#3a3a3a"/><circle cx="1084.7" cy="709.8" r="4.1" fill="#3a3a3a"/>
<text x="1103.4" y="708.1" font-size="26" text-anchor="start" fill="#272727" textLength="242.4" lengthAdjust="spacingAndGlyphs">Для начала работы</text>
<text x="1080.5" y="738.0" font-size="26" text-anchor="start" fill="#272727" textLength="331.7" lengthAdjust="spacingAndGlyphs">вставьте элемент питания.</text>
</g>
<g id="install">
<path d="M1242.5,161.3 L1350.5,153.8 L1352.0,587.0 L1248.2,548.2 Z" stroke="#2a2a2a" stroke-width="1" fill="#fff" />
<path d="M1350.5,153.8 L1380.0,154.5 L1380.4,582.0 L1352.0,587.0 Z" stroke="#2a2a2a" stroke-width="1" fill="#fff" />
<path d="M1462,398.5 Q1470.5,404 1473,416 Q1474.8,430 1470.5,441 Q1465.5,449.5 1456.5,448.4 Q1462,430 1462,398.5 Z" stroke="#111" stroke-width="0.8" fill="#2b2b2b" />
<line x1="1462.5" y1="402.0" x2="1469.8" y2="402.6" stroke="#888" stroke-width="0.5"/>
<line x1="1462.5" y1="406.0" x2="1470.2" y2="406.6" stroke="#888" stroke-width="0.5"/>
<line x1="1462.5" y1="410.0" x2="1470.8" y2="410.6" stroke="#888" stroke-width="0.5"/>
<line x1="1462.5" y1="414.0" x2="1471.2" y2="414.6" stroke="#888" stroke-width="0.5"/>
<line x1="1462.5" y1="418.0" x2="1471.8" y2="418.6" stroke="#888" stroke-width="0.5"/>
<line x1="1462.5" y1="422.0" x2="1472.2" y2="422.6" stroke="#888" stroke-width="0.5"/>
<line x1="1462.5" y1="426.0" x2="1472.2" y2="426.6" stroke="#888" stroke-width="0.5"/>
<line x1="1462.5" y1="430.0" x2="1471.8" y2="430.6" stroke="#888" stroke-width="0.5"/>
<line x1="1462.5" y1="434.0" x2="1471.2" y2="434.6" stroke="#888" stroke-width="0.5"/>
<line x1="1462.5" y1="438.0" x2="1470.8" y2="438.6" stroke="#888" stroke-width="0.5"/>
<line x1="1462.5" y1="442.0" x2="1470.2" y2="442.6" stroke="#888" stroke-width="0.5"/>
<line x1="1462.5" y1="446.0" x2="1469.8" y2="446.6" stroke="#888" stroke-width="0.5"/>
<path d="M1428,258.4 H1452 Q1463.5,260.5 1465.2,274 L1463.6,390 Q1462,425 1452,444 Q1444.5,456.2 1432,456.4 Q1428,456.4 1425,455" stroke="#2a2a2a" stroke-width="1.1" fill="#fff" />
<path d="M1450.5,259.5 Q1459.5,263 1460.2,276 L1458.8,392 Q1457,424 1448.5,441.5" stroke="#2a2a2a" stroke-width="0.9" fill="none" />
<path d="M1446.5,260 Q1455,264 1455.6,277 L1454.3,392 Q1452.5,422 1444,441" stroke="#2a2a2a" stroke-width="0.8" fill="none" />
<path d="M1458.6,365.4 L1461.6,364.6 Q1462.8,365 1462.7,367 L1462.4,382.4 Q1462.2,384 1460.6,384.2 L1458.6,383.8" stroke="#2a2a2a" stroke-width="0.9" fill="#fff" />
<path d="M1394.2,420 V263 Q1394.2,258.9 1398.3,258.9 H1437.5 Q1442,259.3 1442,264 V430 Q1440,450 1423.5,456.2 Q1410,458.6 1403.5,448.5" stroke="#2a2a2a" stroke-width="1.1" fill="#fff" />
<path d="M1396.3,420 V264.5 Q1396.3,261 1399.8,261 H1408.9 L1409.8,266 H1427.4 L1428.3,261 H1436.5 Q1439.9,261.2 1439.9,265 V430 Q1438,447 1424,453.6" stroke="#2a2a2a" stroke-width="0.8" fill="none" />
<ellipse cx="1417.3" cy="274.9" rx="2.1" ry="3.2" stroke="#2a2a2a" stroke-width="0.9" fill="none"/>
<ellipse cx="1431.1" cy="330.4" rx="2.1" ry="3.2" stroke="#2a2a2a" stroke-width="0.9" fill="none"/>
<ellipse cx="1430.0" cy="374.6" rx="2.2" ry="3.5" stroke="#2a2a2a" stroke-width="0.9" fill="none"/>
<ellipse cx="1417.1" cy="383.5" rx="4.2" ry="6.2" stroke="#2a2a2a" stroke-width="1.1" fill="none"/>
<ellipse cx="1417.1" cy="383.5" rx="2.8" ry="4.6" stroke="#2a2a2a" stroke-width="0.8" fill="none"/>
<line x1="1415.4" y1="380.6" x2="1418.8" y2="386.4" stroke="#2a2a2a" stroke-width="0.8"/>
<line x1="1418.6" y1="380.8" x2="1415.6" y2="386.2" stroke="#2a2a2a" stroke-width="0.8"/>
<path d="M1425.5,382.0 L1434.7,383.0 L1434.7,389.6 L1425.5,388.6 Z" stroke="#111" stroke-width="0.6" fill="#222" />
<line x1="1427.3" y1="383.8" x2="1427.3" y2="387.6" stroke="#ddd" stroke-width="0.7"/>
<line x1="1429.6" y1="384.0" x2="1429.6" y2="387.8" stroke="#ddd" stroke-width="0.7"/>
<line x1="1432.0" y1="384.3" x2="1432.0" y2="388.2" stroke="#ddd" stroke-width="0.7"/>
<ellipse cx="1433.4" cy="436.4" rx="4.0" ry="6.3" stroke="#2a2a2a" stroke-width="1" fill="#fff"/>
<line x1="1431.2" y1="436.6" x2="1435.6" y2="436.2" stroke="#2a2a2a" stroke-width="0.8"/>
<line x1="1433.3" y1="433.0" x2="1433.5" y2="439.8" stroke="#2a2a2a" stroke-width="0.8"/>
<path d="M1380.4,413.6 L1415.5,407.2 Q1424,406.6 1427.4,414 Q1429.6,424 1427.4,436 Q1425,445.6 1418,446 L1390,449.6 Q1383,449.8 1380.4,446 Z" stroke="#111" stroke-width="0.9" fill="#6a6a6a" />
<path d="M1388.0,412.4 Q1392.2,430.0 1388.6,449.2" stroke="#ececec" stroke-width="0.9" fill="none" />
<path d="M1390.6,412.0 Q1394.8,429.7 1391.2,449.0" stroke="#ececec" stroke-width="0.9" fill="none" />
<path d="M1393.2,411.6 Q1397.4,429.4 1393.8,448.8" stroke="#ececec" stroke-width="0.9" fill="none" />
<path d="M1395.8,411.1 Q1400.0,429.1 1396.4,448.5" stroke="#ececec" stroke-width="0.9" fill="none" />
<path d="M1398.4,410.7 Q1402.6,428.8 1399.0,448.3" stroke="#ececec" stroke-width="0.9" fill="none" />
<path d="M1401.0,410.3 Q1405.2,428.5 1401.6,448.1" stroke="#ececec" stroke-width="0.9" fill="none" />
<path d="M1403.6,409.9 Q1407.8,428.2 1404.2,447.9" stroke="#ececec" stroke-width="0.9" fill="none" />
<path d="M1406.2,409.5 Q1410.4,427.9 1406.8,447.7" stroke="#ececec" stroke-width="0.9" fill="none" />
<path d="M1408.8,409.0 Q1413.0,427.6 1409.4,447.4" stroke="#ececec" stroke-width="0.9" fill="none" />
<path d="M1411.4,408.6 Q1415.6,427.3 1412.0,447.2" stroke="#ececec" stroke-width="0.9" fill="none" />
<path d="M1414.0,408.2 Q1418.2,427.0 1414.6,447.0" stroke="#ececec" stroke-width="0.9" fill="none" />
<path d="M1416.6,407.8 Q1420.8,426.7 1417.2,446.8" stroke="#ececec" stroke-width="0.9" fill="none" />
<path d="M1419.2,407.4 Q1423.4,426.4 1419.8,446.6" stroke="#ececec" stroke-width="0.9" fill="none" />
<path d="M1421.8,406.9 Q1426.0,426.1 1422.4,446.3" stroke="#ececec" stroke-width="0.9" fill="none" />
<path d="M1424.4,406.5 Q1428.6,425.8 1425.0,446.1" stroke="#ececec" stroke-width="0.9" fill="none" />
<path d="M1427.0,406.1 Q1431.2,425.5 1427.6,445.9" stroke="#ececec" stroke-width="0.9" fill="none" />
<path d="M1394.5,430.6 L1427.6,426.4 L1427.6,431.4 L1394.5,435.8 Z" stroke="#333" stroke-width="0.6" fill="#fff" />
<path d="M1386,412.4 Q1381,415 1380.6,431 Q1381,447 1387.5,449.8" stroke="#2a2a2a" stroke-width="0.9" fill="#fff" />
<path d="M1389.5,412 Q1394.5,419 1394.6,431 Q1394.4,444 1390.5,449.6" stroke="#2a2a2a" stroke-width="0.9" fill="#fff" />
<path d="M1380.4,418 Q1386,422 1386.4,431.5 Q1386,441 1380.4,445" stroke="#2a2a2a" stroke-width="0.9" fill="none" />
<path d="M1380.6,423.2 L1384.8,422.4 L1384.8,438.6 L1380.6,439.4 Z" stroke="#2a2a2a" stroke-width="0.8" fill="none" />
<line x1="1380.3" y1="400.0" x2="1380.3" y2="460.0" stroke="#2a2a2a" stroke-width="1"/>
<line x1="1381.3" y1="275.4" x2="1391.3" y2="274.9" stroke="#2a2a2a" stroke-width="1"/>
<line x1="1401.3" y1="274.9" x2="1411.3" y2="274.6" stroke="#2a2a2a" stroke-width="1"/>
<line x1="1381.7" y1="386.3" x2="1391.4" y2="385.5" stroke="#2a2a2a" stroke-width="1"/>
<line x1="1401.6" y1="384.7" x2="1410.8" y2="383.9" stroke="#2a2a2a" stroke-width="1"/>
<line x1="1465.8" y1="273.4" x2="1475.6" y2="272.9" stroke="#2a2a2a" stroke-width="1"/>
<line x1="1465.3" y1="378.8" x2="1474.9" y2="377.8" stroke="#2a2a2a" stroke-width="1"/>
<line x1="1474.9" y1="417.6" x2="1484.6" y2="416.0" stroke="#2a2a2a" stroke-width="1"/>
<ellipse cx="1316.3" cy="278.8" rx="2.2" ry="3.6" stroke="#2a2a2a" stroke-width="1" fill="none"/>
<ellipse cx="1318.3" cy="392.8" rx="2.3" ry="3.9" stroke="#2a2a2a" stroke-width="1" fill="none"/>
<path d="M1308.6,430 Q1308.6,414.6 1318.4,414.6 Q1329.4,415.4 1329.4,436 Q1329.4,456.2 1320,456.6 Q1308.6,456 1308.6,440 Z" stroke="#2a2a2a" stroke-width="1" fill="none" />
<line x1="1310.6" y1="424.4" x2="1326.1" y2="422.0" stroke="#2a2a2a" stroke-width="0.9"/>
<line x1="1312.2" y1="441.7" x2="1327.8" y2="439.4" stroke="#2a2a2a" stroke-width="0.9"/>
<path d="M1261.1,383.9 L1267.8,383.1 L1269.1,378.9 L1288.9,383.1 L1301.7,387.8 L1297.4,389.8 L1298.8,472.8 L1291.7,478.3 L1271.1,471.7 L1270.2,467.2 L1267.6,466.7 L1261.4,440.0 Z" stroke="#2a2a2a" stroke-width="1" fill="#fff" />
<path d="M1301.7,387.8 L1300.7,390.6 L1301.2,471.7 L1303.3,471 L1299.4,473.9 L1298.8,472.8" stroke="#2a2a2a" stroke-width="0.9" fill="#fff" />
<path d="M1289.4,383.9 L1289.4,388.3 L1293.3,388.9 L1301.7,387.8 Z" stroke="#2a2a2a" stroke-width="0.8" fill="#fff" />
<path d="M1291.7,478.3 L1291.7,473.6 L1294.6,473.9 L1298.8,472.8 Z" stroke="#2a2a2a" stroke-width="0.8" fill="#fff" />
<ellipse cx="1280.6" cy="440.0" rx="9.8" ry="21.6" stroke="#2a2a2a" stroke-width="1" fill="none"/>
<path d="M1277,460.6 Q1270.4,452 1270.8,438 Q1271.4,424 1278,419.2" stroke="#2a2a2a" stroke-width="0.8" fill="none" />
<ellipse cx="1279.2" cy="396.4" rx="2.3" ry="4.3" stroke="#2a2a2a" stroke-width="1" fill="none"/>
<line x1="1279.2" y1="393.4" x2="1279.2" y2="399.4" stroke="#2a2a2a" stroke-width="0.7"/>
<path d="M1248.9,415.0 L1263.3,418.9 L1272.4,442.2 L1272.6,448.6 L1266.9,467.8 L1261.5,469.4 L1255.0,440.0 Z" stroke="#2a2a2a" stroke-width="1" fill="#fff" />
<path d="M1237.6,433.1 L1243.3,417.2 L1248.9,415.0 L1257.8,416.4 L1266.7,442.2 L1264.5,455.0 L1261.1,466.7 L1250.0,470.0 L1240.0,450.0 Z" stroke="#2a2a2a" stroke-width="1" fill="#fff" />
<line x1="1257.8" y1="416.4" x2="1263.3" y2="418.9" stroke="#2a2a2a" stroke-width="0.9"/>
<line x1="1266.7" y1="442.2" x2="1272.4" y2="442.2" stroke="#2a2a2a" stroke-width="0.9"/>
<line x1="1261.1" y1="466.7" x2="1266.9" y2="467.8" stroke="#2a2a2a" stroke-width="0.9"/>
<line x1="1266.7" y1="446.4" x2="1272.6" y2="448.6" stroke="#2a2a2a" stroke-width="0.9"/>
<path d="M1239.4,433 Q1243,419.8 1251.5,419.6 Q1261,421.6 1263.4,444 Q1263.2,458 1258.4,466" stroke="#2a2a2a" stroke-width="0.9" fill="none" />
<path d="M1239.8,436.0 Q1243.6,423.2 1251.0,421.6" stroke="#444" stroke-width="0.8" fill="none" />
<path d="M1241.3,435.5 Q1245.1,423.6 1251.7,423.0" stroke="#444" stroke-width="0.8" fill="none" />
<path d="M1242.9,435.1 Q1246.7,424.0 1252.4,424.4" stroke="#444" stroke-width="0.8" fill="none" />
<path d="M1244.5,434.6 Q1248.2,424.4 1253.1,425.8" stroke="#444" stroke-width="0.8" fill="none" />
<path d="M1246.0,434.1 Q1249.8,424.8 1253.8,427.2" stroke="#444" stroke-width="0.8" fill="none" />
<path d="M1247.5,433.7 Q1251.3,425.1 1254.5,428.6" stroke="#444" stroke-width="0.8" fill="none" />
<path d="M1249.1,433.2 Q1252.9,425.5 1255.2,430.0" stroke="#444" stroke-width="0.8" fill="none" />
<path d="M1215.3,430.2 L1254.5,441.4 Q1262.6,445.2 1263,459.5 Q1262,477 1252.6,479.4 L1247.7,479 L1213,468" stroke="#2a2a2a" stroke-width="1" fill="#fff" />
<path d="M1208.5,429.4 L1249.1,441.2 A9.4,19 0 0 1 1247.7,479 L1207.2,466.9 A9.4,19 0 0 1 1208.5,429.4 Z" stroke="#2a2a2a" stroke-width="1" fill="#fff" />
<line x1="1208.5" y1="429.4" x2="1215.3" y2="430.2" stroke="#2a2a2a" stroke-width="0.9"/>
<path d="M1213.0,448.4 L1210.6,451.9 L1211.1,457.9 L1208.3,456.8 L1206.6,461.8 L1204.9,456.8 L1202.1,457.9 L1202.6,451.9 L1200.2,448.4 L1202.6,444.9 L1202.1,438.9 L1204.9,440.0 L1206.6,435.0 L1208.3,440.0 L1211.1,438.9 L1210.6,444.9 Z" stroke="#2a2a2a" stroke-width="0.9" fill="none" />
<line x1="1203.6" y1="441.5" x2="1206.6" y2="441.2" stroke="#2a2a2a" stroke-width="0.8"/>
<line x1="1203.2" y1="455.0" x2="1206.4" y2="454.8" stroke="#2a2a2a" stroke-width="0.8"/>
<line x1="1203.4" y1="448.4" x2="1206.4" y2="448.2" stroke="#2a2a2a" stroke-width="0.8"/>
<ellipse cx="1182.1" cy="451.3" rx="7.8" ry="15.2" stroke="#2a2a2a" stroke-width="1" fill="#fff"/>
<ellipse cx="1182.8" cy="451.3" rx="2.3" ry="4.6" stroke="#2a2a2a" stroke-width="0.9" fill="none"/>
<line x1="1182.8" y1="448.4" x2="1182.8" y2="454.2" stroke="#2a2a2a" stroke-width="0.7"/>
<path d="M1164.7,456.8 L1160.1,458.5 L1159.7,466.5 L1156.5,460.6 L1152.3,463.9 L1153.7,456.3 L1149.9,451.6 L1154.5,449.9 L1154.9,441.9 L1158.1,447.8 L1162.3,444.5 L1160.9,452.1 Z" stroke="#2a2a2a" stroke-width="1.3" fill="#fff" />
<ellipse cx="1157.3" cy="454.2" rx="2.6" ry="4.6" stroke="#2a2a2a" stroke-width="1" fill="none"/>
<line x1="1160.2" y1="455.2" x2="1163.8" y2="456.5" stroke="#333" stroke-width="1.2"/>
<line x1="1158.3" y1="458.9" x2="1159.4" y2="465.0" stroke="#333" stroke-width="1.2"/>
<line x1="1155.3" y1="457.9" x2="1152.9" y2="462.7" stroke="#333" stroke-width="1.2"/>
<line x1="1154.4" y1="453.2" x2="1150.8" y2="451.9" stroke="#333" stroke-width="1.2"/>
<line x1="1156.3" y1="449.5" x2="1155.2" y2="443.4" stroke="#333" stroke-width="1.2"/>
<line x1="1159.3" y1="450.5" x2="1161.7" y2="445.7" stroke="#333" stroke-width="1.2"/>
<path d="M1116.5,454.3 L1142.9,451.2 L1142.9,454.2 L1142.9,456.5 L1142.9,459.5 L1116.5,463.5 Z" stroke="#333" stroke-width="0.9" fill="#8a8a8a" />
<line x1="1118.3" y1="454.0" x2="1119.5" y2="463.2" stroke="#444" stroke-width="1.3"/>
<line x1="1120.9" y1="453.6" x2="1122.1" y2="462.8" stroke="#444" stroke-width="1.3"/>
<line x1="1123.6" y1="453.3" x2="1124.8" y2="462.5" stroke="#444" stroke-width="1.3"/>
<line x1="1126.2" y1="452.9" x2="1127.4" y2="462.1" stroke="#444" stroke-width="1.3"/>
<line x1="1128.9" y1="452.6" x2="1130.1" y2="461.8" stroke="#444" stroke-width="1.3"/>
<line x1="1131.5" y1="452.2" x2="1132.7" y2="461.4" stroke="#444" stroke-width="1.3"/>
<line x1="1134.2" y1="451.8" x2="1135.4" y2="461.0" stroke="#444" stroke-width="1.3"/>
<line x1="1136.8" y1="451.5" x2="1138.0" y2="460.7" stroke="#444" stroke-width="1.3"/>
<line x1="1139.5" y1="451.1" x2="1140.7" y2="460.3" stroke="#444" stroke-width="1.3"/>
<line x1="1142.1" y1="450.8" x2="1143.3" y2="460.0" stroke="#444" stroke-width="1.3"/>
<ellipse cx="1113.1" cy="459.4" rx="5.6" ry="8.8" stroke="#1f1f1f" stroke-width="1" fill="#fff"/>
<ellipse cx="1112.5" cy="459.4" rx="4.0" ry="6.5" stroke="#1f1f1f" stroke-width="0.8" fill="none"/>
<line x1="1110.1" y1="459.6" x2="1114.7" y2="459.2" stroke="#1f1f1f" stroke-width="0.8"/>
<line x1="1112.3" y1="456.0" x2="1112.5" y2="462.8" stroke="#1f1f1f" stroke-width="0.8"/>
<line x1="1086.1" y1="463.1" x2="1095.6" y2="461.7" stroke="#2a2a2a" stroke-width="1"/>
<line x1="1106.2" y1="460.6" x2="1107.8" y2="460.4" stroke="#2a2a2a" stroke-width="1"/>
<line x1="1142.9" y1="456.3" x2="1150.3" y2="455.4" stroke="#2a2a2a" stroke-width="1"/>
<line x1="1165.2" y1="453.3" x2="1174.7" y2="452.3" stroke="#2a2a2a" stroke-width="1"/>
<line x1="1190.3" y1="450.9" x2="1199.0" y2="449.6" stroke="#2a2a2a" stroke-width="1"/>
<line x1="1272.6" y1="441.2" x2="1282.9" y2="439.8" stroke="#2a2a2a" stroke-width="1"/>
<line x1="1300.5" y1="438.5" x2="1310.0" y2="437.1" stroke="#2a2a2a" stroke-width="1"/>
<line x1="1321.5" y1="435.8" x2="1327.6" y2="435.1" stroke="#2a2a2a" stroke-width="1"/>
<path d="M1211.6,398.5 L1241.5,396.2 L1245.0,398.7 L1245.0,400.8 L1241.5,403.9 L1211.6,407.1 Z" stroke="#333" stroke-width="0.9" fill="#f2f2f2" />
<line x1="1213.8" y1="398.2" x2="1215.0" y2="406.8" stroke="#444" stroke-width="1.0"/>
<line x1="1216.8" y1="398.0" x2="1218.0" y2="406.6" stroke="#444" stroke-width="1.0"/>
<line x1="1219.8" y1="397.7" x2="1221.0" y2="406.3" stroke="#444" stroke-width="1.0"/>
<line x1="1222.8" y1="397.4" x2="1224.0" y2="406.0" stroke="#444" stroke-width="1.0"/>
<line x1="1225.8" y1="397.1" x2="1227.0" y2="405.7" stroke="#444" stroke-width="1.0"/>
<line x1="1228.7" y1="396.9" x2="1229.9" y2="405.5" stroke="#444" stroke-width="1.0"/>
<line x1="1231.7" y1="396.6" x2="1232.9" y2="405.2" stroke="#444" stroke-width="1.0"/>
<line x1="1234.7" y1="396.3" x2="1235.9" y2="404.9" stroke="#444" stroke-width="1.0"/>
<line x1="1237.7" y1="396.1" x2="1238.9" y2="404.7" stroke="#444" stroke-width="1.0"/>
<line x1="1240.7" y1="395.8" x2="1241.9" y2="404.4" stroke="#444" stroke-width="1.0"/>
<ellipse cx="1208.3" cy="403.1" rx="5.5" ry="9.0" stroke="#1f1f1f" stroke-width="1" fill="#fff"/>
<ellipse cx="1207.7" cy="403.1" rx="4.0" ry="6.7" stroke="#1f1f1f" stroke-width="0.8" fill="none"/>
<line x1="1205.3" y1="403.3" x2="1209.9" y2="402.9" stroke="#1f1f1f" stroke-width="0.8"/>
<line x1="1207.5" y1="399.7" x2="1207.7" y2="406.5" stroke="#1f1f1f" stroke-width="0.8"/>
<line x1="1170.9" y1="406.7" x2="1180.8" y2="405.6" stroke="#2a2a2a" stroke-width="1"/>
<line x1="1190.3" y1="404.6" x2="1200.4" y2="403.6" stroke="#2a2a2a" stroke-width="1"/>
<line x1="1245.5" y1="399.5" x2="1254.5" y2="398.6" stroke="#2a2a2a" stroke-width="1"/>
<line x1="1265.0" y1="397.4" x2="1273.9" y2="396.7" stroke="#2a2a2a" stroke-width="1"/>
<line x1="1301.1" y1="393.9" x2="1310.6" y2="393.0" stroke="#2a2a2a" stroke-width="1"/>
<path d="M1207.6,277.5 L1237.8,276.9 L1241.3,279.8 L1241.3,282.1 L1237.8,285.2 L1207.6,286.7 Z" stroke="#333" stroke-width="0.9" fill="#f2f2f2" />
<line x1="1209.5" y1="277.4" x2="1210.7" y2="286.6" stroke="#444" stroke-width="1.0"/>
<line x1="1212.3" y1="277.3" x2="1213.5" y2="286.5" stroke="#444" stroke-width="1.0"/>
<line x1="1215.0" y1="277.2" x2="1216.2" y2="286.4" stroke="#444" stroke-width="1.0"/>
<line x1="1217.8" y1="277.1" x2="1219.0" y2="286.3" stroke="#444" stroke-width="1.0"/>
<line x1="1220.5" y1="277.0" x2="1221.7" y2="286.2" stroke="#444" stroke-width="1.0"/>
<line x1="1223.3" y1="276.9" x2="1224.5" y2="286.1" stroke="#444" stroke-width="1.0"/>
<line x1="1226.0" y1="276.8" x2="1227.2" y2="286.0" stroke="#444" stroke-width="1.0"/>
<line x1="1228.8" y1="276.7" x2="1230.0" y2="285.9" stroke="#444" stroke-width="1.0"/>
<line x1="1231.5" y1="276.6" x2="1232.7" y2="285.8" stroke="#444" stroke-width="1.0"/>
<line x1="1234.3" y1="276.5" x2="1235.5" y2="285.7" stroke="#444" stroke-width="1.0"/>
<line x1="1237.0" y1="276.4" x2="1238.2" y2="285.6" stroke="#444" stroke-width="1.0"/>
<ellipse cx="1204.2" cy="282.2" rx="5.6" ry="9.2" stroke="#1f1f1f" stroke-width="1" fill="#fff"/>
<ellipse cx="1203.6" cy="282.2" rx="4.0" ry="6.8" stroke="#1f1f1f" stroke-width="0.8" fill="none"/>
<line x1="1201.2" y1="282.4" x2="1205.8" y2="282.0" stroke="#1f1f1f" stroke-width="0.8"/>
<line x1="1203.4" y1="278.8" x2="1203.6" y2="285.6" stroke="#1f1f1f" stroke-width="0.8"/>
<ellipse cx="1252.8" cy="280.2" rx="5.2" ry="8.8" stroke="#2a2a2a" stroke-width="1" fill="#fff"/>
<ellipse cx="1252.8" cy="280.2" rx="2.6" ry="4.6" stroke="#2a2a2a" stroke-width="0.9" fill="none"/>
<ellipse cx="1252.8" cy="280.2" rx="3.9" ry="6.8" stroke="#666" stroke-width="0.6" fill="none"/>
<line x1="1167.5" y1="283.4" x2="1178.8" y2="283.0" stroke="#2a2a2a" stroke-width="1"/>
<line x1="1187.5" y1="282.7" x2="1198.6" y2="282.3" stroke="#2a2a2a" stroke-width="1"/>
<line x1="1241.3" y1="280.8" x2="1247.6" y2="280.5" stroke="#2a2a2a" stroke-width="1"/>
<line x1="1258.8" y1="280.2" x2="1268.8" y2="279.9" stroke="#2a2a2a" stroke-width="1"/>
<line x1="1278.8" y1="279.6" x2="1288.8" y2="279.3" stroke="#2a2a2a" stroke-width="1"/>
<line x1="1298.8" y1="279.0" x2="1308.8" y2="278.8" stroke="#2a2a2a" stroke-width="1"/>
</g>
<g id="battery">
<polygon points="1516.9,600.4 1534.3,600.4 1525.6,613.4" fill="#1f1f1f"/>
<text x="1545.1" y="610.8" font-size="22.6" text-anchor="start" fill="#272727" textLength="203.5" lengthAdjust="spacingAndGlyphs">Установка батареи</text>
<rect x="1465.7" y="625" width="346.7" height="375.1" fill="none" stroke="#222" stroke-width="2.2"/>
<line x1="1465.7" y1="832.7" x2="1812.0" y2="832.7" stroke="#222" stroke-width="2" stroke-dasharray="29.2 21"/>
<path d="M1504.6,775.8 Q1523.3,796.7 1542.8,806.4 Q1559.4,815.4 1573.3,815.4 L1585.1,802.9 L1600.4,786.2 " stroke="#222" stroke-width="1.4300000000000002" fill="#fff" />
<path d="M1504.6,775.8 L1515.0,759.2 Q1530.3,780.0 1553.9,791.1 Q1570.6,798.1 1585.8,799.7 L1600.4,786.2 Q1595.6,768.9 1583.1,755.7 " stroke="#222" stroke-width="1.4300000000000002" fill="#fff" />
<path d="M1520.6,757.8 Q1537.2,780.0 1560.8,789.7 Q1574.7,795.3 1584.4,796.7 " stroke="#222" stroke-width="1.1700000000000002" fill="none" />
<path d="M1585.8,799.7 L1585.1,802.9 " stroke="#222" stroke-width="1.1700000000000002" fill="none" />
<path d="M1587.2,798.1 L1598.3,786.9 M1588.6,799.4 L1599.4,788.6 " stroke="#222" stroke-width="1.04" fill="none" />
<path d="M1588.6,772.4 L1592.5,771.0 L1594.9,777.2 L1590.7,778.9 Z" stroke="#222" stroke-width="1.1700000000000002" fill="#fff" />
<path d="M1485.8,732.1 Q1474.7,741.1 1475.4,755.0 Q1478.2,768.9 1487.2,766.4 L1484.4,759.2 L1494.9,742.5 " stroke="#222" stroke-width="1.4300000000000002" fill="#fff" />
<path d="M1485.8,732.1 L1533.1,711.2 L1537.2,714.7 L1495.6,734.9 Z" stroke="#222" stroke-width="1.4300000000000002" fill="#fff" />
<path d="M1484.4,759.2 L1494.9,742.5 L1506.7,749.4 L1513.6,752.2 L1502.5,773.1 L1492.8,768.9 Z" stroke="#222" stroke-width="1.4300000000000002" fill="#fff" />
<path d="M1494.9,742.5 L1495.6,734.9" stroke="#222" stroke-width="1.3" fill="none" />
<path d="M1498.3,764.7 L1506.7,749.4" stroke="#222" stroke-width="1.1700000000000002" fill="none" />
<path d="M1505.3,771.0 L1515.0,754.3" stroke="#222" stroke-width="1.1700000000000002" fill="none" />
<path d="M1495.6,734.9 L1515.0,742.5 L1520.6,757.8" stroke="#222" stroke-width="1.3" fill="none" />
<path d="M1497.6,733.9 L1506.7,730.0 L1512.9,736.9 L1503.2,741.1 Z" stroke="#222" stroke-width="1.3" fill="none" />
<path d="M1497.6,733.9 L1512.9,736.9" stroke="#222" stroke-width="1.1700000000000002" fill="none" />
<path d="M1508.1,729.0 L1517.1,725.1 L1523.3,732.0 L1513.6,736.2 Z" stroke="#222" stroke-width="1.3" fill="none" />
<path d="M1508.1,729.0 L1523.3,732.0" stroke="#222" stroke-width="1.1700000000000002" fill="none" />
<path d="M1518.5,724.1 L1527.5,720.2 L1533.8,727.2 L1524.0,731.3 Z" stroke="#222" stroke-width="1.3" fill="none" />
<path d="M1518.5,724.1 L1533.8,727.2" stroke="#222" stroke-width="1.1700000000000002" fill="none" />
<path d="M1527.5,719.9 L1536.5,716.0 L1542.8,722.9 L1533.1,727.1 Z" stroke="#222" stroke-width="1.3" fill="none" />
<path d="M1527.5,719.9 L1542.8,722.9" stroke="#222" stroke-width="1.1700000000000002" fill="none" />
<path d="M1519.9,741.1 Q1520.6,757.8 1534.4,770.3 " stroke="#222" stroke-width="1.1700000000000002" fill="none" />
<path d="M1524.7,735.6 Q1526.1,755.0 1537.2,768.9 " stroke="#222" stroke-width="1.1700000000000002" fill="none" />
<ellipse cx="1555.3" cy="752.5" rx="19.0" ry="44.0" stroke="#222" stroke-width="1.4300000000000002" fill="#fff" transform="rotate(-23 1555.3 752.5)"/>
<ellipse cx="1560.8" cy="751.1" rx="19.2" ry="44.8" stroke="#222" stroke-width="1.4300000000000002" fill="#fff" transform="rotate(-23 1560.8 751.1)"/>
<path d="M1529.2,735.6 Q1527.5,752.2 1534.4,768.9 " stroke="#555" stroke-width="0.9099999999999999" fill="none" />
<path d="M1530.0,736.9 Q1528.2,752.2 1535.0,768.3 " stroke="#555" stroke-width="0.9099999999999999" fill="none" />
<path d="M1530.8,738.3 Q1528.9,752.2 1535.6,767.8 " stroke="#555" stroke-width="0.9099999999999999" fill="none" />
<path d="M1531.7,739.7 Q1529.6,752.2 1536.1,767.2 " stroke="#555" stroke-width="0.9099999999999999" fill="none" />
<path d="M1532.5,741.1 Q1530.3,752.2 1536.7,766.7 " stroke="#555" stroke-width="0.9099999999999999" fill="none" />
<path d="M1551.8,724.4 L1558.3,740.0" stroke="#222" stroke-width="2.08" fill="none" />
<path d="M1551.1,734.4 L1558.9,730.8" stroke="#222" stroke-width="2.08" fill="none" />
<path d="M1601.8,693.2 Q1583.1,686.9 1567.1,698.8 " stroke="#222" stroke-width="2.6" fill="none" />
<path d="M1563.3,693.6 L1571.7,701.9 L1545.3,720.6 Z" stroke="#222" stroke-width="0.5" fill="#222" />
<path d="M1571.2,737.6 Q1564.3,749.4 1568.5,763.3 " stroke="#222" stroke-width="2.6" fill="none" />
<path d="M1563.3,766.4 L1573.6,762.5 L1581.1,790.0 Z" stroke="#222" stroke-width="0.5" fill="#222" />
<circle cx="1590.8" cy="716.7" r="15" fill="#d2d2d2"/>
<text x="1590.8" y="724.9" font-size="23" text-anchor="middle" fill="#222">1</text>
<path d="M1668.2,696.4 L1668.2,719.2 Q1670.0,737.3 1682.7,749.3 Q1694.7,756.5 1705.5,759.2 L1708.2,756.3 Q1698.3,750.5 1693.5,738.5 Q1689.7,724.0 1689.3,700.6 Z" stroke="#222" stroke-width="1.4300000000000002" fill="#fff" />
<ellipse cx="1715.2" cy="713.0" rx="27.2" ry="44.4" stroke="#222" stroke-width="1.4300000000000002" fill="#fff" transform="rotate(9.4 1715.2 713.0)"/>
<ellipse cx="1714.8" cy="712.5" rx="23.6" ry="41.6" stroke="#222" stroke-width="1.4300000000000002" fill="#fff" transform="rotate(9.4 1714.8 712.5)"/>
<path d="M1693.3,702.4 Q1691.1,719.2 1695.3,737.3 Q1698.3,746.9 1703.7,753.5 " stroke="#222" stroke-width="1.04" fill="none" />
<path d="M1732.0,725.3 L1735.0,727.1 L1730.2,734.9 L1727.2,733.1 Z" stroke="#222" stroke-width="1.1700000000000002" fill="#fff" />
<path d="M1728.4,734.9 L1732.0,736.7 L1727.2,745.7 L1723.0,743.9 Z" stroke="#222" stroke-width="1.1700000000000002" fill="#fff" />
<path d="M1696.5,745.7 L1699.5,746.9 L1701.3,751.1 L1703.7,754.1 Q1707.9,755.3 1707.0,758.9 " stroke="#222" stroke-width="1.3" fill="none" />
<path d="M1689.9,663.3 L1739.2,647.0 L1743.4,645.2 L1742.2,671.1 L1733.2,668.7 L1722.4,669.3 L1705.5,677.1 L1695.9,689.2 L1691.1,700.0 L1689.3,700.0 Z" stroke="#fff" stroke-width="0.01" fill="#fff" />
<path d="M1662.2,671.1 Q1659.8,665.1 1665.8,663.3 L1671.8,662.1 L1732.0,640.4 L1744.0,641.6 L1743.4,645.2 L1739.2,647.0 L1689.9,663.3 Q1688.7,671.1 1685.1,674.7 L1668.2,672.9 Z" stroke="#222" stroke-width="1.4300000000000002" fill="#fff" />
<path d="M1665.8,663.3 L1687.5,664.5 L1739.2,643.4 L1744.0,641.6" stroke="#222" stroke-width="1.1700000000000002" fill="none" />
<path d="M1687.5,664.5 L1689.9,663.3" stroke="#222" stroke-width="1.04" fill="none" />
<path d="M1667.6,672.9 L1667.6,683.1 L1689.3,687.9 L1689.3,674.7" stroke="#222" stroke-width="1.3" fill="#fff" />
<path d="M1667.0,685.3 Q1665.2,689.2 1667.6,692.8 L1687.5,697.0 Q1691.1,695.2 1691.1,691.6 Q1690.9,688.5 1689.3,687.9 Z" stroke="#222" stroke-width="1.3" fill="#fff" />
<path d="M1687.5,697.0 Q1685.7,692.8 1688.1,687.9 " stroke="#222" stroke-width="1.04" fill="none" />
<path d="M1668.2,696.4 L1689.3,700.6" stroke="#222" stroke-width="1.3" fill="none" />
<path d="M1673.1,694.0 L1673.1,697.0" stroke="#222" stroke-width="1.04" fill="none" />
<path d="M1669.4,695.2 L1689.9,699.4" stroke="#222" stroke-width="0.9099999999999999" fill="none" />
<path d="M1691.1,663.3 L1691.1,700.0" stroke="#222" stroke-width="1.3" fill="none" />
<path d="M1689.7,674.7 L1689.7,687.9" stroke="#222" stroke-width="1.04" fill="none" />
<path d="M1692.3,670.1 L1702.2,665.7 L1702.8,681.3 L1692.3,670.1" stroke="#222" stroke-width="1.3" fill="none" />
<path d="M1691.1,673.5 L1701.3,683.1" stroke="#222" stroke-width="1.3" fill="none" />
<path d="M1691.1,676.5 L1696.5,685.5" stroke="#222" stroke-width="1.1700000000000002" fill="none" />
<path d="M1704.3,664.8 L1704.9,676.5" stroke="#222" stroke-width="1.3" fill="none" />
<path d="M1705.3,664.5 L1717.0,659.7 L1717.6,667.7 L1705.8,675.7 Z" stroke="#222" stroke-width="1.3" fill="none" />
<path d="M1705.5,666.5 L1717.6,666.5" stroke="#222" stroke-width="1.04" fill="none" />
<path d="M1718.8,659.1 L1730.2,654.3 L1731.1,667.3 L1719.0,665.3 Z" stroke="#222" stroke-width="1.3" fill="none" />
<path d="M1719.0,660.9 L1730.2,662.9" stroke="#222" stroke-width="1.04" fill="none" />
<path d="M1732.0,653.7 L1733.2,668.5" stroke="#222" stroke-width="1.3" fill="none" />
<path d="M1733.5,654.3 L1741.0,650.6 L1734.7,668.9 Z" stroke="#222" stroke-width="1.3" fill="none" />
<path d="M1733.8,656.7 L1738.0,659.7" stroke="#222" stroke-width="1.04" fill="none" />
<path d="M1741.6,650.6 L1742.4,671.1" stroke="#222" stroke-width="1.3" fill="none" />
<path d="M1743.4,645.2 L1743.8,671.1" stroke="#222" stroke-width="1.1700000000000002" fill="none" />
<path d="M1741.9,663.9 Q1745.5,665.7 1745.0,669.3 Q1744.0,671.7 1741.9,671.7 " stroke="#222" stroke-width="1.1700000000000002" fill="#fff" />
<path d="M1738.0,674.7 L1742.2,676.5 L1742.6,671.1" stroke="#222" stroke-width="1.1700000000000002" fill="none" />
<path d="M1714.2,684.3 L1714.0,699.4" stroke="#222" stroke-width="2.08" fill="none" />
<path d="M1709.8,694.0 L1718.8,690.6" stroke="#222" stroke-width="2.08" fill="none" />
<path d="M1757.5,641.4 L1757.5,666.1" stroke="#222" stroke-width="2.6" fill="none" />
<path d="M1751.8,664.2 L1763.2,664.2 L1757.5,696.8 Z" stroke="#222" stroke-width="0.5" fill="#222" />
<circle cx="1781.9" cy="660.3" r="15" fill="#d2d2d2"/>
<text x="1781.9" y="668.5" font-size="23" text-anchor="middle" fill="#222">2</text>
<circle cx="1644.2" cy="694.1" r="13.9" stroke="#222" stroke-width="1.3" fill="none"/>
<line x1="1635.6" y1="694.1" x2="1652.8" y2="694.1" stroke="#222" stroke-width="1.3"/>
<circle cx="1788.1" cy="709.8" r="13.9" stroke="#222" stroke-width="1.3" fill="none"/>
<line x1="1779.5" y1="709.8" x2="1796.7" y2="709.8" stroke="#222" stroke-width="1.3"/>
<line x1="1788.1" y1="701.2" x2="1788.1" y2="718.4" stroke="#222" stroke-width="1.3"/>
<path d="M1656.6,832.1 L1656.6,808.4 Q1661.3,791.3 1675.5,784.6 L1684.1,783.7 L1735.3,749.5 L1773.3,754.9 Q1780.9,756.2 1781.2,762.8 L1781.2,832.1 " stroke="#222" stroke-width="1.56" fill="#fff" />
<path d="M1669.8,832.1 L1670.6,806.5 Q1673.6,793.2 1683.5,790.3 L1713.9,797.0 L1762.8,767.0 L1775.2,759.4 Q1778.0,760.0 1778.4,763.8 L1778.4,832.1 " stroke="#222" stroke-width="1.3" fill="none" />
<path d="M1672.1,832.1 L1672.9,807.4 Q1675.5,795.5 1684.1,792.8 " stroke="#222" stroke-width="1.04" fill="none" />
<path d="M1679.7,832.1 L1680.1,793.6" stroke="#222" stroke-width="1.3" fill="none" />
<path d="M1708.7,832.1 L1709.3,810.3 Q1710.6,800.8 1714.4,797.7 " stroke="#222" stroke-width="1.3" fill="none" />
<path d="M1711.6,832.1 L1712.0,811.2 Q1713.5,801.7 1716.9,799.3 L1733.4,789.0 L1736.3,793.6 L1762.8,777.1 L1761.9,771.4 L1775.7,762.8 " stroke="#222" stroke-width="1.1700000000000002" fill="none" />
<ellipse cx="1748.0" cy="800.8" rx="2.6" ry="6.4" stroke="#222" stroke-width="1.3" fill="none" transform="rotate(12 1748.0 800.8)"/>
<path d="M1695.5,784.6 L1719.2,769.5 Q1723.0,760.9 1733.4,751.4 L1747.6,753.3 Q1745.7,756.8 1728.7,760.9 L1724.9,766.6 L1696.8,786.0 " stroke="#222" stroke-width="1.1700000000000002" fill="none" />
<path d="M1719.2,769.5 L1724.9,766.6" stroke="#222" stroke-width="1.04" fill="none" />
<path d="M1726.8,762.8 L1730.6,765.7 L1734.0,762.8" stroke="#222" stroke-width="1.04" fill="none" />
</g>
<g id="battery2">
<path d="M1505.3,915.8 Q1512.5,933.9 1525.7,948.3 Q1542.6,961.6 1564.3,964.0 L1572.9,954.4 L1570.3,952.0 " stroke="#222" stroke-width="1.4300000000000002" fill="#fff" />
<path d="M1492.0,874.9 Q1484.8,882.1 1487.5,893.0 Q1490.2,902.0 1496.3,902.0 L1494.4,896.6 L1498.7,880.3 " stroke="#222" stroke-width="1.4300000000000002" fill="#fff" />
<path d="M1492.0,874.9 L1570.9,850.2 L1573.3,855.6 L1582.3,867.7 L1584.7,874.9 L1582.3,876.7 L1552.2,874.9 L1522.1,890.6 L1502.9,878.5 Z" stroke="#fff" stroke-width="0.01" fill="#fff" />
<path d="M1498.7,880.3 L1492.0,874.9 L1570.9,850.2 L1573.3,855.6 L1582.3,867.7 Q1586.5,870.7 1584.7,874.9 L1582.3,876.7 " stroke="#222" stroke-width="1.4300000000000002" fill="none" />
<path d="M1502.9,878.5 L1569.1,857.5" stroke="#222" stroke-width="1.3" fill="none" />
<ellipse cx="1565.7" cy="913.0" rx="43.6" ry="40.3" stroke="#222" stroke-width="1.4300000000000002" fill="#fff" transform="rotate(-25 1565.7 913.0)"/>
<ellipse cx="1565.0" cy="913.4" rx="40.8" ry="37.6" stroke="#222" stroke-width="1.1700000000000002" fill="none" transform="rotate(-25 1565.0 913.4)"/>
<ellipse cx="1563.1" cy="914.9" rx="37.6" ry="35.0" stroke="#222" stroke-width="1.4300000000000002" fill="#fff" transform="rotate(-25 1563.1 914.9)"/>
<path d="M1503.5,878.5 L1516.1,874.5 L1521.9,886.9 Z" stroke="#222" stroke-width="1.3" fill="none" />
<path d="M1507.1,879.7 L1515.5,876.1 L1518.3,882.4 Z" stroke="#222" stroke-width="1.04" fill="none" />
<path d="M1516.1,874.5 L1511.3,881.5" stroke="#222" stroke-width="1.04" fill="none" />
<path d="M1519.7,873.1 L1534.8,868.3 L1538.0,874.3 L1526.3,882.1 Z" stroke="#222" stroke-width="1.3" fill="none" />
<path d="M1522.4,874.9 L1533.0,871.5 L1527.6,879.1 Z" stroke="#222" stroke-width="1.04" fill="none" />
<path d="M1534.8,868.3 L1526.3,882.1" stroke="#222" stroke-width="1.04" fill="none" />
<path d="M1538.4,867.1 L1553.4,862.3 L1558.5,870.1 L1542.8,872.7 Z" stroke="#222" stroke-width="1.3" fill="none" />
<path d="M1540.8,868.7 L1552.2,865.3 L1547.4,871.1 Z" stroke="#222" stroke-width="1.04" fill="none" />
<path d="M1553.4,862.3 L1542.8,872.7" stroke="#222" stroke-width="1.04" fill="none" />
<path d="M1557.6,861.1 L1567.9,858.1 L1566.9,871.9 L1563.3,870.7 Z" stroke="#222" stroke-width="1.3" fill="none" />
<path d="M1560.1,862.3 L1566.7,860.5 L1564.3,868.9 Z" stroke="#222" stroke-width="1.04" fill="none" />
<path d="M1570.3,858.1 L1580.2,869.5 L1572.9,872.3 L1569.3,871.1 Z" stroke="#222" stroke-width="1.3" fill="none" />
<path d="M1571.5,858.1 L1578.7,867.7 L1580.9,876.1" stroke="#222" stroke-width="1.1700000000000002" fill="none" />
<path d="M1494.4,896.6 L1498.7,880.3 L1505.9,891.8 L1511.5,900.2 L1505.9,912.5 L1500.5,911.0 Z" stroke="#222" stroke-width="1.3" fill="#fff" />
<path d="M1498.7,880.3 L1501.7,881.5 L1520.0,890.6 L1518.8,905.6 L1511.9,902.6 L1511.5,900.2" stroke="#222" stroke-width="1.3" fill="#fff" />
<path d="M1505.3,915.8 L1511.5,900.2" stroke="#222" stroke-width="1.3" fill="none" />
<path d="M1507.7,913.4 L1513.1,903.2" stroke="#222" stroke-width="1.04" fill="none" />
<path d="M1501.7,881.5 L1510.1,896.6 L1516.1,905.0" stroke="#222" stroke-width="1.1700000000000002" fill="none" />
<path d="M1500.5,896.6 L1499.9,909.2" stroke="#222" stroke-width="1.04" fill="none" />
<path d="M1504.7,896.6 Q1507.7,893.0 1510.7,896.6 L1509.5,900.2 " stroke="#222" stroke-width="1.04" fill="none" />
<path d="M1539.0,878.3 L1546.2,876.7 L1546.9,879.7 L1540.2,881.7 Z" stroke="#222" stroke-width="1.1700000000000002" fill="#fff" />
<path d="M1551.6,881.2 L1560.4,879.2" stroke="#222" stroke-width="1.8199999999999998" fill="none" />
<path d="M1600.4,921.9 L1603.5,921.9 L1603.5,929.3 L1599.9,929.8 Z" stroke="#222" stroke-width="1.1700000000000002" fill="#fff" />
<path d="M1590.7,945.9 L1600.4,939.3 L1604.0,940.6 L1593.4,949.1 Z" stroke="#222" stroke-width="1.1700000000000002" fill="#fff" />
<path d="M1551.6,943.5 L1554.0,945.9 L1559.5,946.5 L1560.7,949.5" stroke="#222" stroke-width="1.56" fill="none" />
<path d="M1560.7,949.5 Q1575.1,952.6 1592.0,944.7 " stroke="#222" stroke-width="1.04" fill="none" />
<path d="M1563.1,951.4 Q1576.3,953.8 1593.2,946.5 " stroke="#222" stroke-width="1.04" fill="none" />
<path d="M1549.2,891.8 L1558.2,902.8" stroke="#222" stroke-width="2.21" fill="none" />
<path d="M1548.0,900.2 L1559.7,895.6" stroke="#222" stroke-width="2.21" fill="none" />
<path d="M1559.5,908.0 L1568.1,922.1" stroke="#222" stroke-width="2.6" fill="none" />
<path d="M1561.9,921.9 L1571.1,915.8 L1583.8,946.2 Z" stroke="#222" stroke-width="0.5" fill="#222" />
<path d="M1585.3,863.3 L1593.5,861.1" stroke="#222" stroke-width="1.1700000000000002" fill="none" />
<path d="M1600.9,859.0 L1612.7,855.5" stroke="#222" stroke-width="1.1700000000000002" fill="none" />
<path d="M1621.6,853.0 L1632.7,849.7" stroke="#222" stroke-width="1.1700000000000002" fill="none" />
<path d="M1589.8,870.0 L1597.9,867.8" stroke="#222" stroke-width="1.1700000000000002" fill="none" />
<path d="M1608.3,864.4 L1618.6,861.4" stroke="#222" stroke-width="1.1700000000000002" fill="none" />
<path d="M1628.3,858.9 L1637.9,856.4" stroke="#222" stroke-width="1.1700000000000002" fill="none" />
<path d="M1592.0,836.7 L1614.9,893.7" stroke="#222" stroke-width="1.1700000000000002" fill="none" />
<path d="M1592.7,844.8 L1598.6,842.4 L1602.1,859.6 Z" stroke="#222" stroke-width="0.5" fill="#222" />
<path d="M1606.8,874.4 L1608.7,886.0 L1614.9,883.6 Z" stroke="#222" stroke-width="0.5" fill="#222" />
<text x="1616.9" y="882.1" font-size="19.5" text-anchor="start" fill="#222" transform="rotate(-18 1616.9 882.1)">h</text>
<circle cx="1594.3" cy="971.8" r="15" fill="#d2d2d2"/>
<text x="1594.3" y="980.0" font-size="23" text-anchor="middle" fill="#222">1</text>
<path d="M1676.0,924.3 Q1704.4,945.8 1732.2,958.3 Q1740.6,960.4 1746.1,959.0 L1759.3,940.3 L1751.7,935.0 " stroke="#222" stroke-width="1.4300000000000002" fill="#fff" />
<path d="M1676.0,924.3 L1688.5,904.2 Q1712.8,927.8 1751.7,936.8 L1759.3,940.0 " stroke="#222" stroke-width="1.4300000000000002" fill="#fff" />
<path d="M1690.6,904.2 Q1714.2,925.7 1753.1,934.4 " stroke="#222" stroke-width="1.04" fill="none" />
<path d="M1732.2,903.5 L1762.1,928.5 L1759.3,936.1 L1753.1,934.4 " stroke="#222" stroke-width="1.3" fill="#fff" />
<path d="M1757.2,927.8 L1754.4,934.7" stroke="#222" stroke-width="1.04" fill="none" />
<path d="M1760.7,929.4 L1757.5,936.4" stroke="#222" stroke-width="1.04" fill="none" />
<path d="M1746.8,918.8 L1749.6,916.9 L1754.2,921.5 L1751.4,923.6 Z" stroke="#222" stroke-width="1.3" fill="#fff" />
<path d="M1655.8,880.6 Q1643.3,890.3 1644.7,905.6 Q1648.2,919.4 1657.2,916.7 L1653.8,909.0 L1664.9,890.3 " stroke="#222" stroke-width="1.4300000000000002" fill="#fff" />
<path d="M1655.8,880.6 L1682.2,867.4 L1699.6,879.9 L1696.1,883.3 L1682.9,872.9 L1664.9,882.6 Z" stroke="#222" stroke-width="1.4300000000000002" fill="#fff" />
<path d="M1653.8,909.0 L1664.9,890.3 L1676.7,896.5 L1685.0,898.9 L1671.8,922.2 L1664.2,918.1 Z" stroke="#222" stroke-width="1.4300000000000002" fill="#fff" />
<path d="M1664.9,882.6 L1664.9,890.3" stroke="#222" stroke-width="1.3" fill="none" />
<path d="M1666.9,913.2 L1676.7,896.5" stroke="#222" stroke-width="1.1700000000000002" fill="none" />
<path d="M1674.6,920.1 L1685.7,900.7" stroke="#222" stroke-width="1.1700000000000002" fill="none" />
<path d="M1664.9,882.6 L1685.7,897.2 L1688.5,904.2" stroke="#222" stroke-width="1.3" fill="none" />
<path d="M1666.2,884.7 L1686.4,899.3" stroke="#222" stroke-width="1.04" fill="none" />
<path d="M1668.3,881.2 L1675.3,886.8 L1679.4,884.7 L1672.5,878.9 Z" stroke="#222" stroke-width="1.04" fill="none" />
<path d="M1674.6,878.1 L1681.5,883.7 L1685.7,881.6 L1678.8,875.8 Z" stroke="#222" stroke-width="1.04" fill="none" />
<path d="M1680.8,875.0 L1687.8,880.6 L1691.9,878.5 L1685.0,872.6 Z" stroke="#222" stroke-width="1.04" fill="none" />
<path d="M1682.9,883.3 Q1685.0,891.7 1693.3,902.8 " stroke="#222" stroke-width="1.1700000000000002" fill="none" />
<path d="M1686.4,882.6 Q1687.8,891.7 1696.1,902.1 " stroke="#222" stroke-width="1.1700000000000002" fill="none" />
<ellipse cx="1686.7" cy="886.4" rx="1.8" ry="2.4" stroke="#222" stroke-width="1.04" fill="none"/>
<ellipse cx="1725.3" cy="908.3" rx="38.5" ry="12.0" stroke="#222" stroke-width="1.3" fill="#fff" transform="rotate(46 1725.3 908.3)"/>
<ellipse cx="1726.9" cy="906.7" rx="38.0" ry="10.5" stroke="#222" stroke-width="1.4300000000000002" fill="#fff" transform="rotate(46 1726.9 906.7)"/>
<path d="M1709.3,889.6 L1716.9,900.0" stroke="#222" stroke-width="1.6900000000000002" fill="none" />
<path d="M1710.0,896.5 L1716.2,893.8" stroke="#222" stroke-width="1.6900000000000002" fill="none" />
<path d="M1703.1,884.0 Q1710.0,868.1 1727.4,867.4 " stroke="#222" stroke-width="2.8600000000000003" fill="none" />
<path d="M1726.4,861.4 L1726.4,872.5 L1759.6,870.8 Z" stroke="#222" stroke-width="0.5" fill="#222" />
<ellipse cx="1789.2" cy="901.4" rx="15.2" ry="40.2" stroke="#222" stroke-width="1.3" fill="none" stroke-dasharray="9 4"/>
<path d="M1785.7,861.8 Q1765.6,866.7 1764.9,898.6 Q1766.2,927.8 1782.2,941.0 " stroke="#222" stroke-width="1.3" fill="none" stroke-dasharray="9 4" />
<path d="M1784.3,863.9 Q1772.5,877.8 1772.5,905.6 Q1773.9,927.8 1785.7,940.3 " stroke="#222" stroke-width="1.1700000000000002" fill="none" stroke-dasharray="7 4" />
<path d="M1778.1,941.0 L1789.9,941.0" stroke="#222" stroke-width="1.1700000000000002" fill="none" />
<path d="M1787.1,875.7 L1788.1,889.2" stroke="#222" stroke-width="2.08" fill="none" />
<path d="M1784.3,884.0 L1791.2,881.2" stroke="#222" stroke-width="2.08" fill="none" />
<path d="M1656.5,973.6 L1666.2,957.6" stroke="#222" stroke-width="2.8600000000000003" fill="none" />
<path d="M1660.4,957.2 L1670.8,963.6 L1682.2,933.3 Z" stroke="#222" stroke-width="0.5" fill="#222" />
<circle cx="1693" cy="968.4" r="15" fill="#d2d2d2"/>
<text x="1693.0" y="976.6" font-size="23" text-anchor="middle" fill="#222">2</text>
</g>
</svg>
</body></html>
